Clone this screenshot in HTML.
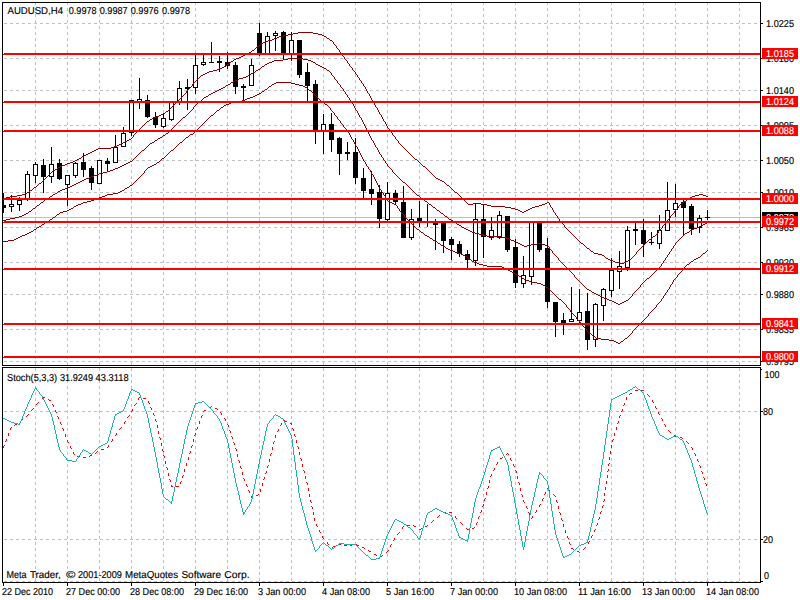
<!DOCTYPE html>
<html><head><meta charset="utf-8"><title>AUDUSD H4</title>
<style>html,body{margin:0;padding:0;background:#fff;width:800px;height:600px;overflow:hidden}</style></head>
<body>
<svg width="800" height="600" viewBox="0 0 800 600" style="position:absolute;left:0;top:0">
<rect x="0" y="0" width="800" height="600" fill="#fff"/>
<g shape-rendering="crispEdges" fill="#c0c0c0">
<path d="M4 23h3v1h-3zM10 23h3v1h-3zM16 23h3v1h-3zM22 23h3v1h-3zM28 23h3v1h-3zM34 23h3v1h-3zM40 23h3v1h-3zM46 23h3v1h-3zM52 23h3v1h-3zM58 23h3v1h-3zM64 23h3v1h-3zM70 23h3v1h-3zM76 23h3v1h-3zM82 23h3v1h-3zM88 23h3v1h-3zM94 23h3v1h-3zM100 23h3v1h-3zM106 23h3v1h-3zM112 23h3v1h-3zM118 23h3v1h-3zM124 23h3v1h-3zM130 23h3v1h-3zM136 23h3v1h-3zM142 23h3v1h-3zM148 23h3v1h-3zM154 23h3v1h-3zM160 23h3v1h-3zM166 23h3v1h-3zM172 23h3v1h-3zM178 23h3v1h-3zM184 23h3v1h-3zM190 23h3v1h-3zM196 23h3v1h-3zM202 23h3v1h-3zM208 23h3v1h-3zM214 23h3v1h-3zM220 23h3v1h-3zM226 23h3v1h-3zM232 23h3v1h-3zM238 23h3v1h-3zM244 23h3v1h-3zM250 23h3v1h-3zM256 23h3v1h-3zM262 23h3v1h-3zM268 23h3v1h-3zM274 23h3v1h-3zM280 23h3v1h-3zM286 23h3v1h-3zM292 23h3v1h-3zM298 23h3v1h-3zM304 23h3v1h-3zM310 23h3v1h-3zM316 23h3v1h-3zM322 23h3v1h-3zM328 23h3v1h-3zM334 23h3v1h-3zM340 23h3v1h-3zM346 23h3v1h-3zM352 23h3v1h-3zM358 23h3v1h-3zM364 23h3v1h-3zM370 23h3v1h-3zM376 23h3v1h-3zM382 23h3v1h-3zM388 23h3v1h-3zM394 23h3v1h-3zM400 23h3v1h-3zM406 23h3v1h-3zM412 23h3v1h-3zM418 23h3v1h-3zM424 23h3v1h-3zM430 23h3v1h-3zM436 23h3v1h-3zM442 23h3v1h-3zM448 23h3v1h-3zM454 23h3v1h-3zM460 23h3v1h-3zM466 23h3v1h-3zM472 23h3v1h-3zM478 23h3v1h-3zM484 23h3v1h-3zM490 23h3v1h-3zM496 23h3v1h-3zM502 23h3v1h-3zM508 23h3v1h-3zM514 23h3v1h-3zM520 23h3v1h-3zM526 23h3v1h-3zM532 23h3v1h-3zM538 23h3v1h-3zM544 23h3v1h-3zM550 23h3v1h-3zM556 23h3v1h-3zM562 23h3v1h-3zM568 23h3v1h-3zM574 23h3v1h-3zM580 23h3v1h-3zM586 23h3v1h-3zM592 23h3v1h-3zM598 23h3v1h-3zM604 23h3v1h-3zM610 23h3v1h-3zM616 23h3v1h-3zM622 23h3v1h-3zM628 23h3v1h-3zM634 23h3v1h-3zM640 23h3v1h-3zM646 23h3v1h-3zM652 23h3v1h-3zM658 23h3v1h-3zM664 23h3v1h-3zM670 23h3v1h-3zM676 23h3v1h-3zM682 23h3v1h-3zM688 23h3v1h-3zM694 23h3v1h-3zM700 23h3v1h-3zM706 23h3v1h-3zM712 23h3v1h-3zM718 23h3v1h-3zM724 23h3v1h-3zM730 23h3v1h-3zM736 23h3v1h-3zM742 23h3v1h-3zM748 23h3v1h-3zM754 23h3v1h-3zM4 58h3v1h-3zM10 58h3v1h-3zM16 58h3v1h-3zM22 58h3v1h-3zM28 58h3v1h-3zM34 58h3v1h-3zM40 58h3v1h-3zM46 58h3v1h-3zM52 58h3v1h-3zM58 58h3v1h-3zM64 58h3v1h-3zM70 58h3v1h-3zM76 58h3v1h-3zM82 58h3v1h-3zM88 58h3v1h-3zM94 58h3v1h-3zM100 58h3v1h-3zM106 58h3v1h-3zM112 58h3v1h-3zM118 58h3v1h-3zM124 58h3v1h-3zM130 58h3v1h-3zM136 58h3v1h-3zM142 58h3v1h-3zM148 58h3v1h-3zM154 58h3v1h-3zM160 58h3v1h-3zM166 58h3v1h-3zM172 58h3v1h-3zM178 58h3v1h-3zM184 58h3v1h-3zM190 58h3v1h-3zM196 58h3v1h-3zM202 58h3v1h-3zM208 58h3v1h-3zM214 58h3v1h-3zM220 58h3v1h-3zM226 58h3v1h-3zM232 58h3v1h-3zM238 58h3v1h-3zM244 58h3v1h-3zM250 58h3v1h-3zM256 58h3v1h-3zM262 58h3v1h-3zM268 58h3v1h-3zM274 58h3v1h-3zM280 58h3v1h-3zM286 58h3v1h-3zM292 58h3v1h-3zM298 58h3v1h-3zM304 58h3v1h-3zM310 58h3v1h-3zM316 58h3v1h-3zM322 58h3v1h-3zM328 58h3v1h-3zM334 58h3v1h-3zM340 58h3v1h-3zM346 58h3v1h-3zM352 58h3v1h-3zM358 58h3v1h-3zM364 58h3v1h-3zM370 58h3v1h-3zM376 58h3v1h-3zM382 58h3v1h-3zM388 58h3v1h-3zM394 58h3v1h-3zM400 58h3v1h-3zM406 58h3v1h-3zM412 58h3v1h-3zM418 58h3v1h-3zM424 58h3v1h-3zM430 58h3v1h-3zM436 58h3v1h-3zM442 58h3v1h-3zM448 58h3v1h-3zM454 58h3v1h-3zM460 58h3v1h-3zM466 58h3v1h-3zM472 58h3v1h-3zM478 58h3v1h-3zM484 58h3v1h-3zM490 58h3v1h-3zM496 58h3v1h-3zM502 58h3v1h-3zM508 58h3v1h-3zM514 58h3v1h-3zM520 58h3v1h-3zM526 58h3v1h-3zM532 58h3v1h-3zM538 58h3v1h-3zM544 58h3v1h-3zM550 58h3v1h-3zM556 58h3v1h-3zM562 58h3v1h-3zM568 58h3v1h-3zM574 58h3v1h-3zM580 58h3v1h-3zM586 58h3v1h-3zM592 58h3v1h-3zM598 58h3v1h-3zM604 58h3v1h-3zM610 58h3v1h-3zM616 58h3v1h-3zM622 58h3v1h-3zM628 58h3v1h-3zM634 58h3v1h-3zM640 58h3v1h-3zM646 58h3v1h-3zM652 58h3v1h-3zM658 58h3v1h-3zM664 58h3v1h-3zM670 58h3v1h-3zM676 58h3v1h-3zM682 58h3v1h-3zM688 58h3v1h-3zM694 58h3v1h-3zM700 58h3v1h-3zM706 58h3v1h-3zM712 58h3v1h-3zM718 58h3v1h-3zM724 58h3v1h-3zM730 58h3v1h-3zM736 58h3v1h-3zM742 58h3v1h-3zM748 58h3v1h-3zM754 58h3v1h-3zM4 90h3v1h-3zM10 90h3v1h-3zM16 90h3v1h-3zM22 90h3v1h-3zM28 90h3v1h-3zM34 90h3v1h-3zM40 90h3v1h-3zM46 90h3v1h-3zM52 90h3v1h-3zM58 90h3v1h-3zM64 90h3v1h-3zM70 90h3v1h-3zM76 90h3v1h-3zM82 90h3v1h-3zM88 90h3v1h-3zM94 90h3v1h-3zM100 90h3v1h-3zM106 90h3v1h-3zM112 90h3v1h-3zM118 90h3v1h-3zM124 90h3v1h-3zM130 90h3v1h-3zM136 90h3v1h-3zM142 90h3v1h-3zM148 90h3v1h-3zM154 90h3v1h-3zM160 90h3v1h-3zM166 90h3v1h-3zM172 90h3v1h-3zM178 90h3v1h-3zM184 90h3v1h-3zM190 90h3v1h-3zM196 90h3v1h-3zM202 90h3v1h-3zM208 90h3v1h-3zM214 90h3v1h-3zM220 90h3v1h-3zM226 90h3v1h-3zM232 90h3v1h-3zM238 90h3v1h-3zM244 90h3v1h-3zM250 90h3v1h-3zM256 90h3v1h-3zM262 90h3v1h-3zM268 90h3v1h-3zM274 90h3v1h-3zM280 90h3v1h-3zM286 90h3v1h-3zM292 90h3v1h-3zM298 90h3v1h-3zM304 90h3v1h-3zM310 90h3v1h-3zM316 90h3v1h-3zM322 90h3v1h-3zM328 90h3v1h-3zM334 90h3v1h-3zM340 90h3v1h-3zM346 90h3v1h-3zM352 90h3v1h-3zM358 90h3v1h-3zM364 90h3v1h-3zM370 90h3v1h-3zM376 90h3v1h-3zM382 90h3v1h-3zM388 90h3v1h-3zM394 90h3v1h-3zM400 90h3v1h-3zM406 90h3v1h-3zM412 90h3v1h-3zM418 90h3v1h-3zM424 90h3v1h-3zM430 90h3v1h-3zM436 90h3v1h-3zM442 90h3v1h-3zM448 90h3v1h-3zM454 90h3v1h-3zM460 90h3v1h-3zM466 90h3v1h-3zM472 90h3v1h-3zM478 90h3v1h-3zM484 90h3v1h-3zM490 90h3v1h-3zM496 90h3v1h-3zM502 90h3v1h-3zM508 90h3v1h-3zM514 90h3v1h-3zM520 90h3v1h-3zM526 90h3v1h-3zM532 90h3v1h-3zM538 90h3v1h-3zM544 90h3v1h-3zM550 90h3v1h-3zM556 90h3v1h-3zM562 90h3v1h-3zM568 90h3v1h-3zM574 90h3v1h-3zM580 90h3v1h-3zM586 90h3v1h-3zM592 90h3v1h-3zM598 90h3v1h-3zM604 90h3v1h-3zM610 90h3v1h-3zM616 90h3v1h-3zM622 90h3v1h-3zM628 90h3v1h-3zM634 90h3v1h-3zM640 90h3v1h-3zM646 90h3v1h-3zM652 90h3v1h-3zM658 90h3v1h-3zM664 90h3v1h-3zM670 90h3v1h-3zM676 90h3v1h-3zM682 90h3v1h-3zM688 90h3v1h-3zM694 90h3v1h-3zM700 90h3v1h-3zM706 90h3v1h-3zM712 90h3v1h-3zM718 90h3v1h-3zM724 90h3v1h-3zM730 90h3v1h-3zM736 90h3v1h-3zM742 90h3v1h-3zM748 90h3v1h-3zM754 90h3v1h-3zM4 125h3v1h-3zM10 125h3v1h-3zM16 125h3v1h-3zM22 125h3v1h-3zM28 125h3v1h-3zM34 125h3v1h-3zM40 125h3v1h-3zM46 125h3v1h-3zM52 125h3v1h-3zM58 125h3v1h-3zM64 125h3v1h-3zM70 125h3v1h-3zM76 125h3v1h-3zM82 125h3v1h-3zM88 125h3v1h-3zM94 125h3v1h-3zM100 125h3v1h-3zM106 125h3v1h-3zM112 125h3v1h-3zM118 125h3v1h-3zM124 125h3v1h-3zM130 125h3v1h-3zM136 125h3v1h-3zM142 125h3v1h-3zM148 125h3v1h-3zM154 125h3v1h-3zM160 125h3v1h-3zM166 125h3v1h-3zM172 125h3v1h-3zM178 125h3v1h-3zM184 125h3v1h-3zM190 125h3v1h-3zM196 125h3v1h-3zM202 125h3v1h-3zM208 125h3v1h-3zM214 125h3v1h-3zM220 125h3v1h-3zM226 125h3v1h-3zM232 125h3v1h-3zM238 125h3v1h-3zM244 125h3v1h-3zM250 125h3v1h-3zM256 125h3v1h-3zM262 125h3v1h-3zM268 125h3v1h-3zM274 125h3v1h-3zM280 125h3v1h-3zM286 125h3v1h-3zM292 125h3v1h-3zM298 125h3v1h-3zM304 125h3v1h-3zM310 125h3v1h-3zM316 125h3v1h-3zM322 125h3v1h-3zM328 125h3v1h-3zM334 125h3v1h-3zM340 125h3v1h-3zM346 125h3v1h-3zM352 125h3v1h-3zM358 125h3v1h-3zM364 125h3v1h-3zM370 125h3v1h-3zM376 125h3v1h-3zM382 125h3v1h-3zM388 125h3v1h-3zM394 125h3v1h-3zM400 125h3v1h-3zM406 125h3v1h-3zM412 125h3v1h-3zM418 125h3v1h-3zM424 125h3v1h-3zM430 125h3v1h-3zM436 125h3v1h-3zM442 125h3v1h-3zM448 125h3v1h-3zM454 125h3v1h-3zM460 125h3v1h-3zM466 125h3v1h-3zM472 125h3v1h-3zM478 125h3v1h-3zM484 125h3v1h-3zM490 125h3v1h-3zM496 125h3v1h-3zM502 125h3v1h-3zM508 125h3v1h-3zM514 125h3v1h-3zM520 125h3v1h-3zM526 125h3v1h-3zM532 125h3v1h-3zM538 125h3v1h-3zM544 125h3v1h-3zM550 125h3v1h-3zM556 125h3v1h-3zM562 125h3v1h-3zM568 125h3v1h-3zM574 125h3v1h-3zM580 125h3v1h-3zM586 125h3v1h-3zM592 125h3v1h-3zM598 125h3v1h-3zM604 125h3v1h-3zM610 125h3v1h-3zM616 125h3v1h-3zM622 125h3v1h-3zM628 125h3v1h-3zM634 125h3v1h-3zM640 125h3v1h-3zM646 125h3v1h-3zM652 125h3v1h-3zM658 125h3v1h-3zM664 125h3v1h-3zM670 125h3v1h-3zM676 125h3v1h-3zM682 125h3v1h-3zM688 125h3v1h-3zM694 125h3v1h-3zM700 125h3v1h-3zM706 125h3v1h-3zM712 125h3v1h-3zM718 125h3v1h-3zM724 125h3v1h-3zM730 125h3v1h-3zM736 125h3v1h-3zM742 125h3v1h-3zM748 125h3v1h-3zM754 125h3v1h-3zM4 160h3v1h-3zM10 160h3v1h-3zM16 160h3v1h-3zM22 160h3v1h-3zM28 160h3v1h-3zM34 160h3v1h-3zM40 160h3v1h-3zM46 160h3v1h-3zM52 160h3v1h-3zM58 160h3v1h-3zM64 160h3v1h-3zM70 160h3v1h-3zM76 160h3v1h-3zM82 160h3v1h-3zM88 160h3v1h-3zM94 160h3v1h-3zM100 160h3v1h-3zM106 160h3v1h-3zM112 160h3v1h-3zM118 160h3v1h-3zM124 160h3v1h-3zM130 160h3v1h-3zM136 160h3v1h-3zM142 160h3v1h-3zM148 160h3v1h-3zM154 160h3v1h-3zM160 160h3v1h-3zM166 160h3v1h-3zM172 160h3v1h-3zM178 160h3v1h-3zM184 160h3v1h-3zM190 160h3v1h-3zM196 160h3v1h-3zM202 160h3v1h-3zM208 160h3v1h-3zM214 160h3v1h-3zM220 160h3v1h-3zM226 160h3v1h-3zM232 160h3v1h-3zM238 160h3v1h-3zM244 160h3v1h-3zM250 160h3v1h-3zM256 160h3v1h-3zM262 160h3v1h-3zM268 160h3v1h-3zM274 160h3v1h-3zM280 160h3v1h-3zM286 160h3v1h-3zM292 160h3v1h-3zM298 160h3v1h-3zM304 160h3v1h-3zM310 160h3v1h-3zM316 160h3v1h-3zM322 160h3v1h-3zM328 160h3v1h-3zM334 160h3v1h-3zM340 160h3v1h-3zM346 160h3v1h-3zM352 160h3v1h-3zM358 160h3v1h-3zM364 160h3v1h-3zM370 160h3v1h-3zM376 160h3v1h-3zM382 160h3v1h-3zM388 160h3v1h-3zM394 160h3v1h-3zM400 160h3v1h-3zM406 160h3v1h-3zM412 160h3v1h-3zM418 160h3v1h-3zM424 160h3v1h-3zM430 160h3v1h-3zM436 160h3v1h-3zM442 160h3v1h-3zM448 160h3v1h-3zM454 160h3v1h-3zM460 160h3v1h-3zM466 160h3v1h-3zM472 160h3v1h-3zM478 160h3v1h-3zM484 160h3v1h-3zM490 160h3v1h-3zM496 160h3v1h-3zM502 160h3v1h-3zM508 160h3v1h-3zM514 160h3v1h-3zM520 160h3v1h-3zM526 160h3v1h-3zM532 160h3v1h-3zM538 160h3v1h-3zM544 160h3v1h-3zM550 160h3v1h-3zM556 160h3v1h-3zM562 160h3v1h-3zM568 160h3v1h-3zM574 160h3v1h-3zM580 160h3v1h-3zM586 160h3v1h-3zM592 160h3v1h-3zM598 160h3v1h-3zM604 160h3v1h-3zM610 160h3v1h-3zM616 160h3v1h-3zM622 160h3v1h-3zM628 160h3v1h-3zM634 160h3v1h-3zM640 160h3v1h-3zM646 160h3v1h-3zM652 160h3v1h-3zM658 160h3v1h-3zM664 160h3v1h-3zM670 160h3v1h-3zM676 160h3v1h-3zM682 160h3v1h-3zM688 160h3v1h-3zM694 160h3v1h-3zM700 160h3v1h-3zM706 160h3v1h-3zM712 160h3v1h-3zM718 160h3v1h-3zM724 160h3v1h-3zM730 160h3v1h-3zM736 160h3v1h-3zM742 160h3v1h-3zM748 160h3v1h-3zM754 160h3v1h-3zM4 192h3v1h-3zM10 192h3v1h-3zM16 192h3v1h-3zM22 192h3v1h-3zM28 192h3v1h-3zM34 192h3v1h-3zM40 192h3v1h-3zM46 192h3v1h-3zM52 192h3v1h-3zM58 192h3v1h-3zM64 192h3v1h-3zM70 192h3v1h-3zM76 192h3v1h-3zM82 192h3v1h-3zM88 192h3v1h-3zM94 192h3v1h-3zM100 192h3v1h-3zM106 192h3v1h-3zM112 192h3v1h-3zM118 192h3v1h-3zM124 192h3v1h-3zM130 192h3v1h-3zM136 192h3v1h-3zM142 192h3v1h-3zM148 192h3v1h-3zM154 192h3v1h-3zM160 192h3v1h-3zM166 192h3v1h-3zM172 192h3v1h-3zM178 192h3v1h-3zM184 192h3v1h-3zM190 192h3v1h-3zM196 192h3v1h-3zM202 192h3v1h-3zM208 192h3v1h-3zM214 192h3v1h-3zM220 192h3v1h-3zM226 192h3v1h-3zM232 192h3v1h-3zM238 192h3v1h-3zM244 192h3v1h-3zM250 192h3v1h-3zM256 192h3v1h-3zM262 192h3v1h-3zM268 192h3v1h-3zM274 192h3v1h-3zM280 192h3v1h-3zM286 192h3v1h-3zM292 192h3v1h-3zM298 192h3v1h-3zM304 192h3v1h-3zM310 192h3v1h-3zM316 192h3v1h-3zM322 192h3v1h-3zM328 192h3v1h-3zM334 192h3v1h-3zM340 192h3v1h-3zM346 192h3v1h-3zM352 192h3v1h-3zM358 192h3v1h-3zM364 192h3v1h-3zM370 192h3v1h-3zM376 192h3v1h-3zM382 192h3v1h-3zM388 192h3v1h-3zM394 192h3v1h-3zM400 192h3v1h-3zM406 192h3v1h-3zM412 192h3v1h-3zM418 192h3v1h-3zM424 192h3v1h-3zM430 192h3v1h-3zM436 192h3v1h-3zM442 192h3v1h-3zM448 192h3v1h-3zM454 192h3v1h-3zM460 192h3v1h-3zM466 192h3v1h-3zM472 192h3v1h-3zM478 192h3v1h-3zM484 192h3v1h-3zM490 192h3v1h-3zM496 192h3v1h-3zM502 192h3v1h-3zM508 192h3v1h-3zM514 192h3v1h-3zM520 192h3v1h-3zM526 192h3v1h-3zM532 192h3v1h-3zM538 192h3v1h-3zM544 192h3v1h-3zM550 192h3v1h-3zM556 192h3v1h-3zM562 192h3v1h-3zM568 192h3v1h-3zM574 192h3v1h-3zM580 192h3v1h-3zM586 192h3v1h-3zM592 192h3v1h-3zM598 192h3v1h-3zM604 192h3v1h-3zM610 192h3v1h-3zM616 192h3v1h-3zM622 192h3v1h-3zM628 192h3v1h-3zM634 192h3v1h-3zM640 192h3v1h-3zM646 192h3v1h-3zM652 192h3v1h-3zM658 192h3v1h-3zM664 192h3v1h-3zM670 192h3v1h-3zM676 192h3v1h-3zM682 192h3v1h-3zM688 192h3v1h-3zM694 192h3v1h-3zM700 192h3v1h-3zM706 192h3v1h-3zM712 192h3v1h-3zM718 192h3v1h-3zM724 192h3v1h-3zM730 192h3v1h-3zM736 192h3v1h-3zM742 192h3v1h-3zM748 192h3v1h-3zM754 192h3v1h-3zM4 227h3v1h-3zM10 227h3v1h-3zM16 227h3v1h-3zM22 227h3v1h-3zM28 227h3v1h-3zM34 227h3v1h-3zM40 227h3v1h-3zM46 227h3v1h-3zM52 227h3v1h-3zM58 227h3v1h-3zM64 227h3v1h-3zM70 227h3v1h-3zM76 227h3v1h-3zM82 227h3v1h-3zM88 227h3v1h-3zM94 227h3v1h-3zM100 227h3v1h-3zM106 227h3v1h-3zM112 227h3v1h-3zM118 227h3v1h-3zM124 227h3v1h-3zM130 227h3v1h-3zM136 227h3v1h-3zM142 227h3v1h-3zM148 227h3v1h-3zM154 227h3v1h-3zM160 227h3v1h-3zM166 227h3v1h-3zM172 227h3v1h-3zM178 227h3v1h-3zM184 227h3v1h-3zM190 227h3v1h-3zM196 227h3v1h-3zM202 227h3v1h-3zM208 227h3v1h-3zM214 227h3v1h-3zM220 227h3v1h-3zM226 227h3v1h-3zM232 227h3v1h-3zM238 227h3v1h-3zM244 227h3v1h-3zM250 227h3v1h-3zM256 227h3v1h-3zM262 227h3v1h-3zM268 227h3v1h-3zM274 227h3v1h-3zM280 227h3v1h-3zM286 227h3v1h-3zM292 227h3v1h-3zM298 227h3v1h-3zM304 227h3v1h-3zM310 227h3v1h-3zM316 227h3v1h-3zM322 227h3v1h-3zM328 227h3v1h-3zM334 227h3v1h-3zM340 227h3v1h-3zM346 227h3v1h-3zM352 227h3v1h-3zM358 227h3v1h-3zM364 227h3v1h-3zM370 227h3v1h-3zM376 227h3v1h-3zM382 227h3v1h-3zM388 227h3v1h-3zM394 227h3v1h-3zM400 227h3v1h-3zM406 227h3v1h-3zM412 227h3v1h-3zM418 227h3v1h-3zM424 227h3v1h-3zM430 227h3v1h-3zM436 227h3v1h-3zM442 227h3v1h-3zM448 227h3v1h-3zM454 227h3v1h-3zM460 227h3v1h-3zM466 227h3v1h-3zM472 227h3v1h-3zM478 227h3v1h-3zM484 227h3v1h-3zM490 227h3v1h-3zM496 227h3v1h-3zM502 227h3v1h-3zM508 227h3v1h-3zM514 227h3v1h-3zM520 227h3v1h-3zM526 227h3v1h-3zM532 227h3v1h-3zM538 227h3v1h-3zM544 227h3v1h-3zM550 227h3v1h-3zM556 227h3v1h-3zM562 227h3v1h-3zM568 227h3v1h-3zM574 227h3v1h-3zM580 227h3v1h-3zM586 227h3v1h-3zM592 227h3v1h-3zM598 227h3v1h-3zM604 227h3v1h-3zM610 227h3v1h-3zM616 227h3v1h-3zM622 227h3v1h-3zM628 227h3v1h-3zM634 227h3v1h-3zM640 227h3v1h-3zM646 227h3v1h-3zM652 227h3v1h-3zM658 227h3v1h-3zM664 227h3v1h-3zM670 227h3v1h-3zM676 227h3v1h-3zM682 227h3v1h-3zM688 227h3v1h-3zM694 227h3v1h-3zM700 227h3v1h-3zM706 227h3v1h-3zM712 227h3v1h-3zM718 227h3v1h-3zM724 227h3v1h-3zM730 227h3v1h-3zM736 227h3v1h-3zM742 227h3v1h-3zM748 227h3v1h-3zM754 227h3v1h-3zM4 262h3v1h-3zM10 262h3v1h-3zM16 262h3v1h-3zM22 262h3v1h-3zM28 262h3v1h-3zM34 262h3v1h-3zM40 262h3v1h-3zM46 262h3v1h-3zM52 262h3v1h-3zM58 262h3v1h-3zM64 262h3v1h-3zM70 262h3v1h-3zM76 262h3v1h-3zM82 262h3v1h-3zM88 262h3v1h-3zM94 262h3v1h-3zM100 262h3v1h-3zM106 262h3v1h-3zM112 262h3v1h-3zM118 262h3v1h-3zM124 262h3v1h-3zM130 262h3v1h-3zM136 262h3v1h-3zM142 262h3v1h-3zM148 262h3v1h-3zM154 262h3v1h-3zM160 262h3v1h-3zM166 262h3v1h-3zM172 262h3v1h-3zM178 262h3v1h-3zM184 262h3v1h-3zM190 262h3v1h-3zM196 262h3v1h-3zM202 262h3v1h-3zM208 262h3v1h-3zM214 262h3v1h-3zM220 262h3v1h-3zM226 262h3v1h-3zM232 262h3v1h-3zM238 262h3v1h-3zM244 262h3v1h-3zM250 262h3v1h-3zM256 262h3v1h-3zM262 262h3v1h-3zM268 262h3v1h-3zM274 262h3v1h-3zM280 262h3v1h-3zM286 262h3v1h-3zM292 262h3v1h-3zM298 262h3v1h-3zM304 262h3v1h-3zM310 262h3v1h-3zM316 262h3v1h-3zM322 262h3v1h-3zM328 262h3v1h-3zM334 262h3v1h-3zM340 262h3v1h-3zM346 262h3v1h-3zM352 262h3v1h-3zM358 262h3v1h-3zM364 262h3v1h-3zM370 262h3v1h-3zM376 262h3v1h-3zM382 262h3v1h-3zM388 262h3v1h-3zM394 262h3v1h-3zM400 262h3v1h-3zM406 262h3v1h-3zM412 262h3v1h-3zM418 262h3v1h-3zM424 262h3v1h-3zM430 262h3v1h-3zM436 262h3v1h-3zM442 262h3v1h-3zM448 262h3v1h-3zM454 262h3v1h-3zM460 262h3v1h-3zM466 262h3v1h-3zM472 262h3v1h-3zM478 262h3v1h-3zM484 262h3v1h-3zM490 262h3v1h-3zM496 262h3v1h-3zM502 262h3v1h-3zM508 262h3v1h-3zM514 262h3v1h-3zM520 262h3v1h-3zM526 262h3v1h-3zM532 262h3v1h-3zM538 262h3v1h-3zM544 262h3v1h-3zM550 262h3v1h-3zM556 262h3v1h-3zM562 262h3v1h-3zM568 262h3v1h-3zM574 262h3v1h-3zM580 262h3v1h-3zM586 262h3v1h-3zM592 262h3v1h-3zM598 262h3v1h-3zM604 262h3v1h-3zM610 262h3v1h-3zM616 262h3v1h-3zM622 262h3v1h-3zM628 262h3v1h-3zM634 262h3v1h-3zM640 262h3v1h-3zM646 262h3v1h-3zM652 262h3v1h-3zM658 262h3v1h-3zM664 262h3v1h-3zM670 262h3v1h-3zM676 262h3v1h-3zM682 262h3v1h-3zM688 262h3v1h-3zM694 262h3v1h-3zM700 262h3v1h-3zM706 262h3v1h-3zM712 262h3v1h-3zM718 262h3v1h-3zM724 262h3v1h-3zM730 262h3v1h-3zM736 262h3v1h-3zM742 262h3v1h-3zM748 262h3v1h-3zM754 262h3v1h-3zM4 294h3v1h-3zM10 294h3v1h-3zM16 294h3v1h-3zM22 294h3v1h-3zM28 294h3v1h-3zM34 294h3v1h-3zM40 294h3v1h-3zM46 294h3v1h-3zM52 294h3v1h-3zM58 294h3v1h-3zM64 294h3v1h-3zM70 294h3v1h-3zM76 294h3v1h-3zM82 294h3v1h-3zM88 294h3v1h-3zM94 294h3v1h-3zM100 294h3v1h-3zM106 294h3v1h-3zM112 294h3v1h-3zM118 294h3v1h-3zM124 294h3v1h-3zM130 294h3v1h-3zM136 294h3v1h-3zM142 294h3v1h-3zM148 294h3v1h-3zM154 294h3v1h-3zM160 294h3v1h-3zM166 294h3v1h-3zM172 294h3v1h-3zM178 294h3v1h-3zM184 294h3v1h-3zM190 294h3v1h-3zM196 294h3v1h-3zM202 294h3v1h-3zM208 294h3v1h-3zM214 294h3v1h-3zM220 294h3v1h-3zM226 294h3v1h-3zM232 294h3v1h-3zM238 294h3v1h-3zM244 294h3v1h-3zM250 294h3v1h-3zM256 294h3v1h-3zM262 294h3v1h-3zM268 294h3v1h-3zM274 294h3v1h-3zM280 294h3v1h-3zM286 294h3v1h-3zM292 294h3v1h-3zM298 294h3v1h-3zM304 294h3v1h-3zM310 294h3v1h-3zM316 294h3v1h-3zM322 294h3v1h-3zM328 294h3v1h-3zM334 294h3v1h-3zM340 294h3v1h-3zM346 294h3v1h-3zM352 294h3v1h-3zM358 294h3v1h-3zM364 294h3v1h-3zM370 294h3v1h-3zM376 294h3v1h-3zM382 294h3v1h-3zM388 294h3v1h-3zM394 294h3v1h-3zM400 294h3v1h-3zM406 294h3v1h-3zM412 294h3v1h-3zM418 294h3v1h-3zM424 294h3v1h-3zM430 294h3v1h-3zM436 294h3v1h-3zM442 294h3v1h-3zM448 294h3v1h-3zM454 294h3v1h-3zM460 294h3v1h-3zM466 294h3v1h-3zM472 294h3v1h-3zM478 294h3v1h-3zM484 294h3v1h-3zM490 294h3v1h-3zM496 294h3v1h-3zM502 294h3v1h-3zM508 294h3v1h-3zM514 294h3v1h-3zM520 294h3v1h-3zM526 294h3v1h-3zM532 294h3v1h-3zM538 294h3v1h-3zM544 294h3v1h-3zM550 294h3v1h-3zM556 294h3v1h-3zM562 294h3v1h-3zM568 294h3v1h-3zM574 294h3v1h-3zM580 294h3v1h-3zM586 294h3v1h-3zM592 294h3v1h-3zM598 294h3v1h-3zM604 294h3v1h-3zM610 294h3v1h-3zM616 294h3v1h-3zM622 294h3v1h-3zM628 294h3v1h-3zM634 294h3v1h-3zM640 294h3v1h-3zM646 294h3v1h-3zM652 294h3v1h-3zM658 294h3v1h-3zM664 294h3v1h-3zM670 294h3v1h-3zM676 294h3v1h-3zM682 294h3v1h-3zM688 294h3v1h-3zM694 294h3v1h-3zM700 294h3v1h-3zM706 294h3v1h-3zM712 294h3v1h-3zM718 294h3v1h-3zM724 294h3v1h-3zM730 294h3v1h-3zM736 294h3v1h-3zM742 294h3v1h-3zM748 294h3v1h-3zM754 294h3v1h-3zM4 329h3v1h-3zM10 329h3v1h-3zM16 329h3v1h-3zM22 329h3v1h-3zM28 329h3v1h-3zM34 329h3v1h-3zM40 329h3v1h-3zM46 329h3v1h-3zM52 329h3v1h-3zM58 329h3v1h-3zM64 329h3v1h-3zM70 329h3v1h-3zM76 329h3v1h-3zM82 329h3v1h-3zM88 329h3v1h-3zM94 329h3v1h-3zM100 329h3v1h-3zM106 329h3v1h-3zM112 329h3v1h-3zM118 329h3v1h-3zM124 329h3v1h-3zM130 329h3v1h-3zM136 329h3v1h-3zM142 329h3v1h-3zM148 329h3v1h-3zM154 329h3v1h-3zM160 329h3v1h-3zM166 329h3v1h-3zM172 329h3v1h-3zM178 329h3v1h-3zM184 329h3v1h-3zM190 329h3v1h-3zM196 329h3v1h-3zM202 329h3v1h-3zM208 329h3v1h-3zM214 329h3v1h-3zM220 329h3v1h-3zM226 329h3v1h-3zM232 329h3v1h-3zM238 329h3v1h-3zM244 329h3v1h-3zM250 329h3v1h-3zM256 329h3v1h-3zM262 329h3v1h-3zM268 329h3v1h-3zM274 329h3v1h-3zM280 329h3v1h-3zM286 329h3v1h-3zM292 329h3v1h-3zM298 329h3v1h-3zM304 329h3v1h-3zM310 329h3v1h-3zM316 329h3v1h-3zM322 329h3v1h-3zM328 329h3v1h-3zM334 329h3v1h-3zM340 329h3v1h-3zM346 329h3v1h-3zM352 329h3v1h-3zM358 329h3v1h-3zM364 329h3v1h-3zM370 329h3v1h-3zM376 329h3v1h-3zM382 329h3v1h-3zM388 329h3v1h-3zM394 329h3v1h-3zM400 329h3v1h-3zM406 329h3v1h-3zM412 329h3v1h-3zM418 329h3v1h-3zM424 329h3v1h-3zM430 329h3v1h-3zM436 329h3v1h-3zM442 329h3v1h-3zM448 329h3v1h-3zM454 329h3v1h-3zM460 329h3v1h-3zM466 329h3v1h-3zM472 329h3v1h-3zM478 329h3v1h-3zM484 329h3v1h-3zM490 329h3v1h-3zM496 329h3v1h-3zM502 329h3v1h-3zM508 329h3v1h-3zM514 329h3v1h-3zM520 329h3v1h-3zM526 329h3v1h-3zM532 329h3v1h-3zM538 329h3v1h-3zM544 329h3v1h-3zM550 329h3v1h-3zM556 329h3v1h-3zM562 329h3v1h-3zM568 329h3v1h-3zM574 329h3v1h-3zM580 329h3v1h-3zM586 329h3v1h-3zM592 329h3v1h-3zM598 329h3v1h-3zM604 329h3v1h-3zM610 329h3v1h-3zM616 329h3v1h-3zM622 329h3v1h-3zM628 329h3v1h-3zM634 329h3v1h-3zM640 329h3v1h-3zM646 329h3v1h-3zM652 329h3v1h-3zM658 329h3v1h-3zM664 329h3v1h-3zM670 329h3v1h-3zM676 329h3v1h-3zM682 329h3v1h-3zM688 329h3v1h-3zM694 329h3v1h-3zM700 329h3v1h-3zM706 329h3v1h-3zM712 329h3v1h-3zM718 329h3v1h-3zM724 329h3v1h-3zM730 329h3v1h-3zM736 329h3v1h-3zM742 329h3v1h-3zM748 329h3v1h-3zM754 329h3v1h-3zM4 361h3v1h-3zM10 361h3v1h-3zM16 361h3v1h-3zM22 361h3v1h-3zM28 361h3v1h-3zM34 361h3v1h-3zM40 361h3v1h-3zM46 361h3v1h-3zM52 361h3v1h-3zM58 361h3v1h-3zM64 361h3v1h-3zM70 361h3v1h-3zM76 361h3v1h-3zM82 361h3v1h-3zM88 361h3v1h-3zM94 361h3v1h-3zM100 361h3v1h-3zM106 361h3v1h-3zM112 361h3v1h-3zM118 361h3v1h-3zM124 361h3v1h-3zM130 361h3v1h-3zM136 361h3v1h-3zM142 361h3v1h-3zM148 361h3v1h-3zM154 361h3v1h-3zM160 361h3v1h-3zM166 361h3v1h-3zM172 361h3v1h-3zM178 361h3v1h-3zM184 361h3v1h-3zM190 361h3v1h-3zM196 361h3v1h-3zM202 361h3v1h-3zM208 361h3v1h-3zM214 361h3v1h-3zM220 361h3v1h-3zM226 361h3v1h-3zM232 361h3v1h-3zM238 361h3v1h-3zM244 361h3v1h-3zM250 361h3v1h-3zM256 361h3v1h-3zM262 361h3v1h-3zM268 361h3v1h-3zM274 361h3v1h-3zM280 361h3v1h-3zM286 361h3v1h-3zM292 361h3v1h-3zM298 361h3v1h-3zM304 361h3v1h-3zM310 361h3v1h-3zM316 361h3v1h-3zM322 361h3v1h-3zM328 361h3v1h-3zM334 361h3v1h-3zM340 361h3v1h-3zM346 361h3v1h-3zM352 361h3v1h-3zM358 361h3v1h-3zM364 361h3v1h-3zM370 361h3v1h-3zM376 361h3v1h-3zM382 361h3v1h-3zM388 361h3v1h-3zM394 361h3v1h-3zM400 361h3v1h-3zM406 361h3v1h-3zM412 361h3v1h-3zM418 361h3v1h-3zM424 361h3v1h-3zM430 361h3v1h-3zM436 361h3v1h-3zM442 361h3v1h-3zM448 361h3v1h-3zM454 361h3v1h-3zM460 361h3v1h-3zM466 361h3v1h-3zM472 361h3v1h-3zM478 361h3v1h-3zM484 361h3v1h-3zM490 361h3v1h-3zM496 361h3v1h-3zM502 361h3v1h-3zM508 361h3v1h-3zM514 361h3v1h-3zM520 361h3v1h-3zM526 361h3v1h-3zM532 361h3v1h-3zM538 361h3v1h-3zM544 361h3v1h-3zM550 361h3v1h-3zM556 361h3v1h-3zM562 361h3v1h-3zM568 361h3v1h-3zM574 361h3v1h-3zM580 361h3v1h-3zM586 361h3v1h-3zM592 361h3v1h-3zM598 361h3v1h-3zM604 361h3v1h-3zM610 361h3v1h-3zM616 361h3v1h-3zM622 361h3v1h-3zM628 361h3v1h-3zM634 361h3v1h-3zM640 361h3v1h-3zM646 361h3v1h-3zM652 361h3v1h-3zM658 361h3v1h-3zM664 361h3v1h-3zM670 361h3v1h-3zM676 361h3v1h-3zM682 361h3v1h-3zM688 361h3v1h-3zM694 361h3v1h-3zM700 361h3v1h-3zM706 361h3v1h-3zM712 361h3v1h-3zM718 361h3v1h-3zM724 361h3v1h-3zM730 361h3v1h-3zM736 361h3v1h-3zM742 361h3v1h-3zM748 361h3v1h-3zM754 361h3v1h-3zM4 411h3v1h-3zM10 411h3v1h-3zM16 411h3v1h-3zM22 411h3v1h-3zM28 411h3v1h-3zM34 411h3v1h-3zM40 411h3v1h-3zM46 411h3v1h-3zM52 411h3v1h-3zM58 411h3v1h-3zM64 411h3v1h-3zM70 411h3v1h-3zM76 411h3v1h-3zM82 411h3v1h-3zM88 411h3v1h-3zM94 411h3v1h-3zM100 411h3v1h-3zM106 411h3v1h-3zM112 411h3v1h-3zM118 411h3v1h-3zM124 411h3v1h-3zM130 411h3v1h-3zM136 411h3v1h-3zM142 411h3v1h-3zM148 411h3v1h-3zM154 411h3v1h-3zM160 411h3v1h-3zM166 411h3v1h-3zM172 411h3v1h-3zM178 411h3v1h-3zM184 411h3v1h-3zM190 411h3v1h-3zM196 411h3v1h-3zM202 411h3v1h-3zM208 411h3v1h-3zM214 411h3v1h-3zM220 411h3v1h-3zM226 411h3v1h-3zM232 411h3v1h-3zM238 411h3v1h-3zM244 411h3v1h-3zM250 411h3v1h-3zM256 411h3v1h-3zM262 411h3v1h-3zM268 411h3v1h-3zM274 411h3v1h-3zM280 411h3v1h-3zM286 411h3v1h-3zM292 411h3v1h-3zM298 411h3v1h-3zM304 411h3v1h-3zM310 411h3v1h-3zM316 411h3v1h-3zM322 411h3v1h-3zM328 411h3v1h-3zM334 411h3v1h-3zM340 411h3v1h-3zM346 411h3v1h-3zM352 411h3v1h-3zM358 411h3v1h-3zM364 411h3v1h-3zM370 411h3v1h-3zM376 411h3v1h-3zM382 411h3v1h-3zM388 411h3v1h-3zM394 411h3v1h-3zM400 411h3v1h-3zM406 411h3v1h-3zM412 411h3v1h-3zM418 411h3v1h-3zM424 411h3v1h-3zM430 411h3v1h-3zM436 411h3v1h-3zM442 411h3v1h-3zM448 411h3v1h-3zM454 411h3v1h-3zM460 411h3v1h-3zM466 411h3v1h-3zM472 411h3v1h-3zM478 411h3v1h-3zM484 411h3v1h-3zM490 411h3v1h-3zM496 411h3v1h-3zM502 411h3v1h-3zM508 411h3v1h-3zM514 411h3v1h-3zM520 411h3v1h-3zM526 411h3v1h-3zM532 411h3v1h-3zM538 411h3v1h-3zM544 411h3v1h-3zM550 411h3v1h-3zM556 411h3v1h-3zM562 411h3v1h-3zM568 411h3v1h-3zM574 411h3v1h-3zM580 411h3v1h-3zM586 411h3v1h-3zM592 411h3v1h-3zM598 411h3v1h-3zM604 411h3v1h-3zM610 411h3v1h-3zM616 411h3v1h-3zM622 411h3v1h-3zM628 411h3v1h-3zM634 411h3v1h-3zM640 411h3v1h-3zM646 411h3v1h-3zM652 411h3v1h-3zM658 411h3v1h-3zM664 411h3v1h-3zM670 411h3v1h-3zM676 411h3v1h-3zM682 411h3v1h-3zM688 411h3v1h-3zM694 411h3v1h-3zM700 411h3v1h-3zM706 411h3v1h-3zM712 411h3v1h-3zM718 411h3v1h-3zM724 411h3v1h-3zM730 411h3v1h-3zM736 411h3v1h-3zM742 411h3v1h-3zM748 411h3v1h-3zM754 411h3v1h-3zM4 539h3v1h-3zM10 539h3v1h-3zM16 539h3v1h-3zM22 539h3v1h-3zM28 539h3v1h-3zM34 539h3v1h-3zM40 539h3v1h-3zM46 539h3v1h-3zM52 539h3v1h-3zM58 539h3v1h-3zM64 539h3v1h-3zM70 539h3v1h-3zM76 539h3v1h-3zM82 539h3v1h-3zM88 539h3v1h-3zM94 539h3v1h-3zM100 539h3v1h-3zM106 539h3v1h-3zM112 539h3v1h-3zM118 539h3v1h-3zM124 539h3v1h-3zM130 539h3v1h-3zM136 539h3v1h-3zM142 539h3v1h-3zM148 539h3v1h-3zM154 539h3v1h-3zM160 539h3v1h-3zM166 539h3v1h-3zM172 539h3v1h-3zM178 539h3v1h-3zM184 539h3v1h-3zM190 539h3v1h-3zM196 539h3v1h-3zM202 539h3v1h-3zM208 539h3v1h-3zM214 539h3v1h-3zM220 539h3v1h-3zM226 539h3v1h-3zM232 539h3v1h-3zM238 539h3v1h-3zM244 539h3v1h-3zM250 539h3v1h-3zM256 539h3v1h-3zM262 539h3v1h-3zM268 539h3v1h-3zM274 539h3v1h-3zM280 539h3v1h-3zM286 539h3v1h-3zM292 539h3v1h-3zM298 539h3v1h-3zM304 539h3v1h-3zM310 539h3v1h-3zM316 539h3v1h-3zM322 539h3v1h-3zM328 539h3v1h-3zM334 539h3v1h-3zM340 539h3v1h-3zM346 539h3v1h-3zM352 539h3v1h-3zM358 539h3v1h-3zM364 539h3v1h-3zM370 539h3v1h-3zM376 539h3v1h-3zM382 539h3v1h-3zM388 539h3v1h-3zM394 539h3v1h-3zM400 539h3v1h-3zM406 539h3v1h-3zM412 539h3v1h-3zM418 539h3v1h-3zM424 539h3v1h-3zM430 539h3v1h-3zM436 539h3v1h-3zM442 539h3v1h-3zM448 539h3v1h-3zM454 539h3v1h-3zM460 539h3v1h-3zM466 539h3v1h-3zM472 539h3v1h-3zM478 539h3v1h-3zM484 539h3v1h-3zM490 539h3v1h-3zM496 539h3v1h-3zM502 539h3v1h-3zM508 539h3v1h-3zM514 539h3v1h-3zM520 539h3v1h-3zM526 539h3v1h-3zM532 539h3v1h-3zM538 539h3v1h-3zM544 539h3v1h-3zM550 539h3v1h-3zM556 539h3v1h-3zM562 539h3v1h-3zM568 539h3v1h-3zM574 539h3v1h-3zM580 539h3v1h-3zM586 539h3v1h-3zM592 539h3v1h-3zM598 539h3v1h-3zM604 539h3v1h-3zM610 539h3v1h-3zM616 539h3v1h-3zM622 539h3v1h-3zM628 539h3v1h-3zM634 539h3v1h-3zM640 539h3v1h-3zM646 539h3v1h-3zM652 539h3v1h-3zM658 539h3v1h-3zM664 539h3v1h-3zM670 539h3v1h-3zM676 539h3v1h-3zM682 539h3v1h-3zM688 539h3v1h-3zM694 539h3v1h-3zM700 539h3v1h-3zM706 539h3v1h-3zM712 539h3v1h-3zM718 539h3v1h-3zM724 539h3v1h-3zM730 539h3v1h-3zM736 539h3v1h-3zM742 539h3v1h-3zM748 539h3v1h-3zM754 539h3v1h-3zM4 581h3v1h-3zM10 581h3v1h-3zM16 581h3v1h-3zM22 581h3v1h-3zM28 581h3v1h-3zM34 581h3v1h-3zM40 581h3v1h-3zM46 581h3v1h-3zM52 581h3v1h-3zM58 581h3v1h-3zM64 581h3v1h-3zM70 581h3v1h-3zM76 581h3v1h-3zM82 581h3v1h-3zM88 581h3v1h-3zM94 581h3v1h-3zM100 581h3v1h-3zM106 581h3v1h-3zM112 581h3v1h-3zM118 581h3v1h-3zM124 581h3v1h-3zM130 581h3v1h-3zM136 581h3v1h-3zM142 581h3v1h-3zM148 581h3v1h-3zM154 581h3v1h-3zM160 581h3v1h-3zM166 581h3v1h-3zM172 581h3v1h-3zM178 581h3v1h-3zM184 581h3v1h-3zM190 581h3v1h-3zM196 581h3v1h-3zM202 581h3v1h-3zM208 581h3v1h-3zM214 581h3v1h-3zM220 581h3v1h-3zM226 581h3v1h-3zM232 581h3v1h-3zM238 581h3v1h-3zM244 581h3v1h-3zM250 581h3v1h-3zM256 581h3v1h-3zM262 581h3v1h-3zM268 581h3v1h-3zM274 581h3v1h-3zM280 581h3v1h-3zM286 581h3v1h-3zM292 581h3v1h-3zM298 581h3v1h-3zM304 581h3v1h-3zM310 581h3v1h-3zM316 581h3v1h-3zM322 581h3v1h-3zM328 581h3v1h-3zM334 581h3v1h-3zM340 581h3v1h-3zM346 581h3v1h-3zM352 581h3v1h-3zM358 581h3v1h-3zM364 581h3v1h-3zM370 581h3v1h-3zM376 581h3v1h-3zM382 581h3v1h-3zM388 581h3v1h-3zM394 581h3v1h-3zM400 581h3v1h-3zM406 581h3v1h-3zM412 581h3v1h-3zM418 581h3v1h-3zM424 581h3v1h-3zM430 581h3v1h-3zM436 581h3v1h-3zM442 581h3v1h-3zM448 581h3v1h-3zM454 581h3v1h-3zM460 581h3v1h-3zM466 581h3v1h-3zM472 581h3v1h-3zM478 581h3v1h-3zM484 581h3v1h-3zM490 581h3v1h-3zM496 581h3v1h-3zM502 581h3v1h-3zM508 581h3v1h-3zM514 581h3v1h-3zM520 581h3v1h-3zM526 581h3v1h-3zM532 581h3v1h-3zM538 581h3v1h-3zM544 581h3v1h-3zM550 581h3v1h-3zM556 581h3v1h-3zM562 581h3v1h-3zM568 581h3v1h-3zM574 581h3v1h-3zM580 581h3v1h-3zM586 581h3v1h-3zM592 581h3v1h-3zM598 581h3v1h-3zM604 581h3v1h-3zM610 581h3v1h-3zM616 581h3v1h-3zM622 581h3v1h-3zM628 581h3v1h-3zM634 581h3v1h-3zM640 581h3v1h-3zM646 581h3v1h-3zM652 581h3v1h-3zM658 581h3v1h-3zM664 581h3v1h-3zM670 581h3v1h-3zM676 581h3v1h-3zM682 581h3v1h-3zM688 581h3v1h-3zM694 581h3v1h-3zM700 581h3v1h-3zM706 581h3v1h-3zM712 581h3v1h-3zM718 581h3v1h-3zM724 581h3v1h-3zM730 581h3v1h-3zM736 581h3v1h-3zM742 581h3v1h-3zM748 581h3v1h-3zM754 581h3v1h-3zM35 3v2h1v-2zM35 8v3h1v-3zM35 14v3h1v-3zM35 20v3h1v-3zM35 26v3h1v-3zM35 32v3h1v-3zM35 38v3h1v-3zM35 44v3h1v-3zM35 50v3h1v-3zM35 56v3h1v-3zM35 62v3h1v-3zM35 68v3h1v-3zM35 74v3h1v-3zM35 80v3h1v-3zM35 86v3h1v-3zM35 92v3h1v-3zM35 98v3h1v-3zM35 104v3h1v-3zM35 110v3h1v-3zM35 116v3h1v-3zM35 122v3h1v-3zM35 128v3h1v-3zM35 134v3h1v-3zM35 140v3h1v-3zM35 146v3h1v-3zM35 152v3h1v-3zM35 158v3h1v-3zM35 164v3h1v-3zM35 170v3h1v-3zM35 176v3h1v-3zM35 182v3h1v-3zM35 188v3h1v-3zM35 194v3h1v-3zM35 200v3h1v-3zM35 206v3h1v-3zM35 212v3h1v-3zM35 218v3h1v-3zM35 224v3h1v-3zM35 230v3h1v-3zM35 236v3h1v-3zM35 242v3h1v-3zM35 248v3h1v-3zM35 254v3h1v-3zM35 260v3h1v-3zM35 266v3h1v-3zM35 272v3h1v-3zM35 278v3h1v-3zM35 284v3h1v-3zM35 290v3h1v-3zM35 296v3h1v-3zM35 302v3h1v-3zM35 308v3h1v-3zM35 314v3h1v-3zM35 320v3h1v-3zM35 326v3h1v-3zM35 332v3h1v-3zM35 338v3h1v-3zM35 344v3h1v-3zM35 350v3h1v-3zM35 356v3h1v-3zM35 362v3h1v-3zM35 368v3h1v-3zM35 374v3h1v-3zM35 380v3h1v-3zM35 386v3h1v-3zM35 392v3h1v-3zM35 398v3h1v-3zM35 404v3h1v-3zM35 410v3h1v-3zM35 416v3h1v-3zM35 422v3h1v-3zM35 428v3h1v-3zM35 434v3h1v-3zM35 440v3h1v-3zM35 446v3h1v-3zM35 452v3h1v-3zM35 458v3h1v-3zM35 464v3h1v-3zM35 470v3h1v-3zM35 476v3h1v-3zM35 482v3h1v-3zM35 488v3h1v-3zM35 494v3h1v-3zM35 500v3h1v-3zM35 506v3h1v-3zM35 512v3h1v-3zM35 518v3h1v-3zM35 524v3h1v-3zM35 530v3h1v-3zM35 536v3h1v-3zM35 542v3h1v-3zM35 548v3h1v-3zM35 554v3h1v-3zM35 560v3h1v-3zM35 566v3h1v-3zM35 572v3h1v-3zM35 578v3h1v-3zM67 3v2h1v-2zM67 8v3h1v-3zM67 14v3h1v-3zM67 20v3h1v-3zM67 26v3h1v-3zM67 32v3h1v-3zM67 38v3h1v-3zM67 44v3h1v-3zM67 50v3h1v-3zM67 56v3h1v-3zM67 62v3h1v-3zM67 68v3h1v-3zM67 74v3h1v-3zM67 80v3h1v-3zM67 86v3h1v-3zM67 92v3h1v-3zM67 98v3h1v-3zM67 104v3h1v-3zM67 110v3h1v-3zM67 116v3h1v-3zM67 122v3h1v-3zM67 128v3h1v-3zM67 134v3h1v-3zM67 140v3h1v-3zM67 146v3h1v-3zM67 152v3h1v-3zM67 158v3h1v-3zM67 164v3h1v-3zM67 170v3h1v-3zM67 176v3h1v-3zM67 182v3h1v-3zM67 188v3h1v-3zM67 194v3h1v-3zM67 200v3h1v-3zM67 206v3h1v-3zM67 212v3h1v-3zM67 218v3h1v-3zM67 224v3h1v-3zM67 230v3h1v-3zM67 236v3h1v-3zM67 242v3h1v-3zM67 248v3h1v-3zM67 254v3h1v-3zM67 260v3h1v-3zM67 266v3h1v-3zM67 272v3h1v-3zM67 278v3h1v-3zM67 284v3h1v-3zM67 290v3h1v-3zM67 296v3h1v-3zM67 302v3h1v-3zM67 308v3h1v-3zM67 314v3h1v-3zM67 320v3h1v-3zM67 326v3h1v-3zM67 332v3h1v-3zM67 338v3h1v-3zM67 344v3h1v-3zM67 350v3h1v-3zM67 356v3h1v-3zM67 362v3h1v-3zM67 368v3h1v-3zM67 374v3h1v-3zM67 380v3h1v-3zM67 386v3h1v-3zM67 392v3h1v-3zM67 398v3h1v-3zM67 404v3h1v-3zM67 410v3h1v-3zM67 416v3h1v-3zM67 422v3h1v-3zM67 428v3h1v-3zM67 434v3h1v-3zM67 440v3h1v-3zM67 446v3h1v-3zM67 452v3h1v-3zM67 458v3h1v-3zM67 464v3h1v-3zM67 470v3h1v-3zM67 476v3h1v-3zM67 482v3h1v-3zM67 488v3h1v-3zM67 494v3h1v-3zM67 500v3h1v-3zM67 506v3h1v-3zM67 512v3h1v-3zM67 518v3h1v-3zM67 524v3h1v-3zM67 530v3h1v-3zM67 536v3h1v-3zM67 542v3h1v-3zM67 548v3h1v-3zM67 554v3h1v-3zM67 560v3h1v-3zM67 566v3h1v-3zM67 572v3h1v-3zM67 578v3h1v-3zM99 3v2h1v-2zM99 8v3h1v-3zM99 14v3h1v-3zM99 20v3h1v-3zM99 26v3h1v-3zM99 32v3h1v-3zM99 38v3h1v-3zM99 44v3h1v-3zM99 50v3h1v-3zM99 56v3h1v-3zM99 62v3h1v-3zM99 68v3h1v-3zM99 74v3h1v-3zM99 80v3h1v-3zM99 86v3h1v-3zM99 92v3h1v-3zM99 98v3h1v-3zM99 104v3h1v-3zM99 110v3h1v-3zM99 116v3h1v-3zM99 122v3h1v-3zM99 128v3h1v-3zM99 134v3h1v-3zM99 140v3h1v-3zM99 146v3h1v-3zM99 152v3h1v-3zM99 158v3h1v-3zM99 164v3h1v-3zM99 170v3h1v-3zM99 176v3h1v-3zM99 182v3h1v-3zM99 188v3h1v-3zM99 194v3h1v-3zM99 200v3h1v-3zM99 206v3h1v-3zM99 212v3h1v-3zM99 218v3h1v-3zM99 224v3h1v-3zM99 230v3h1v-3zM99 236v3h1v-3zM99 242v3h1v-3zM99 248v3h1v-3zM99 254v3h1v-3zM99 260v3h1v-3zM99 266v3h1v-3zM99 272v3h1v-3zM99 278v3h1v-3zM99 284v3h1v-3zM99 290v3h1v-3zM99 296v3h1v-3zM99 302v3h1v-3zM99 308v3h1v-3zM99 314v3h1v-3zM99 320v3h1v-3zM99 326v3h1v-3zM99 332v3h1v-3zM99 338v3h1v-3zM99 344v3h1v-3zM99 350v3h1v-3zM99 356v3h1v-3zM99 362v3h1v-3zM99 368v3h1v-3zM99 374v3h1v-3zM99 380v3h1v-3zM99 386v3h1v-3zM99 392v3h1v-3zM99 398v3h1v-3zM99 404v3h1v-3zM99 410v3h1v-3zM99 416v3h1v-3zM99 422v3h1v-3zM99 428v3h1v-3zM99 434v3h1v-3zM99 440v3h1v-3zM99 446v3h1v-3zM99 452v3h1v-3zM99 458v3h1v-3zM99 464v3h1v-3zM99 470v3h1v-3zM99 476v3h1v-3zM99 482v3h1v-3zM99 488v3h1v-3zM99 494v3h1v-3zM99 500v3h1v-3zM99 506v3h1v-3zM99 512v3h1v-3zM99 518v3h1v-3zM99 524v3h1v-3zM99 530v3h1v-3zM99 536v3h1v-3zM99 542v3h1v-3zM99 548v3h1v-3zM99 554v3h1v-3zM99 560v3h1v-3zM99 566v3h1v-3zM99 572v3h1v-3zM99 578v3h1v-3zM131 3v2h1v-2zM131 8v3h1v-3zM131 14v3h1v-3zM131 20v3h1v-3zM131 26v3h1v-3zM131 32v3h1v-3zM131 38v3h1v-3zM131 44v3h1v-3zM131 50v3h1v-3zM131 56v3h1v-3zM131 62v3h1v-3zM131 68v3h1v-3zM131 74v3h1v-3zM131 80v3h1v-3zM131 86v3h1v-3zM131 92v3h1v-3zM131 98v3h1v-3zM131 104v3h1v-3zM131 110v3h1v-3zM131 116v3h1v-3zM131 122v3h1v-3zM131 128v3h1v-3zM131 134v3h1v-3zM131 140v3h1v-3zM131 146v3h1v-3zM131 152v3h1v-3zM131 158v3h1v-3zM131 164v3h1v-3zM131 170v3h1v-3zM131 176v3h1v-3zM131 182v3h1v-3zM131 188v3h1v-3zM131 194v3h1v-3zM131 200v3h1v-3zM131 206v3h1v-3zM131 212v3h1v-3zM131 218v3h1v-3zM131 224v3h1v-3zM131 230v3h1v-3zM131 236v3h1v-3zM131 242v3h1v-3zM131 248v3h1v-3zM131 254v3h1v-3zM131 260v3h1v-3zM131 266v3h1v-3zM131 272v3h1v-3zM131 278v3h1v-3zM131 284v3h1v-3zM131 290v3h1v-3zM131 296v3h1v-3zM131 302v3h1v-3zM131 308v3h1v-3zM131 314v3h1v-3zM131 320v3h1v-3zM131 326v3h1v-3zM131 332v3h1v-3zM131 338v3h1v-3zM131 344v3h1v-3zM131 350v3h1v-3zM131 356v3h1v-3zM131 362v3h1v-3zM131 368v3h1v-3zM131 374v3h1v-3zM131 380v3h1v-3zM131 386v3h1v-3zM131 392v3h1v-3zM131 398v3h1v-3zM131 404v3h1v-3zM131 410v3h1v-3zM131 416v3h1v-3zM131 422v3h1v-3zM131 428v3h1v-3zM131 434v3h1v-3zM131 440v3h1v-3zM131 446v3h1v-3zM131 452v3h1v-3zM131 458v3h1v-3zM131 464v3h1v-3zM131 470v3h1v-3zM131 476v3h1v-3zM131 482v3h1v-3zM131 488v3h1v-3zM131 494v3h1v-3zM131 500v3h1v-3zM131 506v3h1v-3zM131 512v3h1v-3zM131 518v3h1v-3zM131 524v3h1v-3zM131 530v3h1v-3zM131 536v3h1v-3zM131 542v3h1v-3zM131 548v3h1v-3zM131 554v3h1v-3zM131 560v3h1v-3zM131 566v3h1v-3zM131 572v3h1v-3zM131 578v3h1v-3zM163 3v2h1v-2zM163 8v3h1v-3zM163 14v3h1v-3zM163 20v3h1v-3zM163 26v3h1v-3zM163 32v3h1v-3zM163 38v3h1v-3zM163 44v3h1v-3zM163 50v3h1v-3zM163 56v3h1v-3zM163 62v3h1v-3zM163 68v3h1v-3zM163 74v3h1v-3zM163 80v3h1v-3zM163 86v3h1v-3zM163 92v3h1v-3zM163 98v3h1v-3zM163 104v3h1v-3zM163 110v3h1v-3zM163 116v3h1v-3zM163 122v3h1v-3zM163 128v3h1v-3zM163 134v3h1v-3zM163 140v3h1v-3zM163 146v3h1v-3zM163 152v3h1v-3zM163 158v3h1v-3zM163 164v3h1v-3zM163 170v3h1v-3zM163 176v3h1v-3zM163 182v3h1v-3zM163 188v3h1v-3zM163 194v3h1v-3zM163 200v3h1v-3zM163 206v3h1v-3zM163 212v3h1v-3zM163 218v3h1v-3zM163 224v3h1v-3zM163 230v3h1v-3zM163 236v3h1v-3zM163 242v3h1v-3zM163 248v3h1v-3zM163 254v3h1v-3zM163 260v3h1v-3zM163 266v3h1v-3zM163 272v3h1v-3zM163 278v3h1v-3zM163 284v3h1v-3zM163 290v3h1v-3zM163 296v3h1v-3zM163 302v3h1v-3zM163 308v3h1v-3zM163 314v3h1v-3zM163 320v3h1v-3zM163 326v3h1v-3zM163 332v3h1v-3zM163 338v3h1v-3zM163 344v3h1v-3zM163 350v3h1v-3zM163 356v3h1v-3zM163 362v3h1v-3zM163 368v3h1v-3zM163 374v3h1v-3zM163 380v3h1v-3zM163 386v3h1v-3zM163 392v3h1v-3zM163 398v3h1v-3zM163 404v3h1v-3zM163 410v3h1v-3zM163 416v3h1v-3zM163 422v3h1v-3zM163 428v3h1v-3zM163 434v3h1v-3zM163 440v3h1v-3zM163 446v3h1v-3zM163 452v3h1v-3zM163 458v3h1v-3zM163 464v3h1v-3zM163 470v3h1v-3zM163 476v3h1v-3zM163 482v3h1v-3zM163 488v3h1v-3zM163 494v3h1v-3zM163 500v3h1v-3zM163 506v3h1v-3zM163 512v3h1v-3zM163 518v3h1v-3zM163 524v3h1v-3zM163 530v3h1v-3zM163 536v3h1v-3zM163 542v3h1v-3zM163 548v3h1v-3zM163 554v3h1v-3zM163 560v3h1v-3zM163 566v3h1v-3zM163 572v3h1v-3zM163 578v3h1v-3zM195 3v2h1v-2zM195 8v3h1v-3zM195 14v3h1v-3zM195 20v3h1v-3zM195 26v3h1v-3zM195 32v3h1v-3zM195 38v3h1v-3zM195 44v3h1v-3zM195 50v3h1v-3zM195 56v3h1v-3zM195 62v3h1v-3zM195 68v3h1v-3zM195 74v3h1v-3zM195 80v3h1v-3zM195 86v3h1v-3zM195 92v3h1v-3zM195 98v3h1v-3zM195 104v3h1v-3zM195 110v3h1v-3zM195 116v3h1v-3zM195 122v3h1v-3zM195 128v3h1v-3zM195 134v3h1v-3zM195 140v3h1v-3zM195 146v3h1v-3zM195 152v3h1v-3zM195 158v3h1v-3zM195 164v3h1v-3zM195 170v3h1v-3zM195 176v3h1v-3zM195 182v3h1v-3zM195 188v3h1v-3zM195 194v3h1v-3zM195 200v3h1v-3zM195 206v3h1v-3zM195 212v3h1v-3zM195 218v3h1v-3zM195 224v3h1v-3zM195 230v3h1v-3zM195 236v3h1v-3zM195 242v3h1v-3zM195 248v3h1v-3zM195 254v3h1v-3zM195 260v3h1v-3zM195 266v3h1v-3zM195 272v3h1v-3zM195 278v3h1v-3zM195 284v3h1v-3zM195 290v3h1v-3zM195 296v3h1v-3zM195 302v3h1v-3zM195 308v3h1v-3zM195 314v3h1v-3zM195 320v3h1v-3zM195 326v3h1v-3zM195 332v3h1v-3zM195 338v3h1v-3zM195 344v3h1v-3zM195 350v3h1v-3zM195 356v3h1v-3zM195 362v3h1v-3zM195 368v3h1v-3zM195 374v3h1v-3zM195 380v3h1v-3zM195 386v3h1v-3zM195 392v3h1v-3zM195 398v3h1v-3zM195 404v3h1v-3zM195 410v3h1v-3zM195 416v3h1v-3zM195 422v3h1v-3zM195 428v3h1v-3zM195 434v3h1v-3zM195 440v3h1v-3zM195 446v3h1v-3zM195 452v3h1v-3zM195 458v3h1v-3zM195 464v3h1v-3zM195 470v3h1v-3zM195 476v3h1v-3zM195 482v3h1v-3zM195 488v3h1v-3zM195 494v3h1v-3zM195 500v3h1v-3zM195 506v3h1v-3zM195 512v3h1v-3zM195 518v3h1v-3zM195 524v3h1v-3zM195 530v3h1v-3zM195 536v3h1v-3zM195 542v3h1v-3zM195 548v3h1v-3zM195 554v3h1v-3zM195 560v3h1v-3zM195 566v3h1v-3zM195 572v3h1v-3zM195 578v3h1v-3zM227 3v2h1v-2zM227 8v3h1v-3zM227 14v3h1v-3zM227 20v3h1v-3zM227 26v3h1v-3zM227 32v3h1v-3zM227 38v3h1v-3zM227 44v3h1v-3zM227 50v3h1v-3zM227 56v3h1v-3zM227 62v3h1v-3zM227 68v3h1v-3zM227 74v3h1v-3zM227 80v3h1v-3zM227 86v3h1v-3zM227 92v3h1v-3zM227 98v3h1v-3zM227 104v3h1v-3zM227 110v3h1v-3zM227 116v3h1v-3zM227 122v3h1v-3zM227 128v3h1v-3zM227 134v3h1v-3zM227 140v3h1v-3zM227 146v3h1v-3zM227 152v3h1v-3zM227 158v3h1v-3zM227 164v3h1v-3zM227 170v3h1v-3zM227 176v3h1v-3zM227 182v3h1v-3zM227 188v3h1v-3zM227 194v3h1v-3zM227 200v3h1v-3zM227 206v3h1v-3zM227 212v3h1v-3zM227 218v3h1v-3zM227 224v3h1v-3zM227 230v3h1v-3zM227 236v3h1v-3zM227 242v3h1v-3zM227 248v3h1v-3zM227 254v3h1v-3zM227 260v3h1v-3zM227 266v3h1v-3zM227 272v3h1v-3zM227 278v3h1v-3zM227 284v3h1v-3zM227 290v3h1v-3zM227 296v3h1v-3zM227 302v3h1v-3zM227 308v3h1v-3zM227 314v3h1v-3zM227 320v3h1v-3zM227 326v3h1v-3zM227 332v3h1v-3zM227 338v3h1v-3zM227 344v3h1v-3zM227 350v3h1v-3zM227 356v3h1v-3zM227 362v3h1v-3zM227 368v3h1v-3zM227 374v3h1v-3zM227 380v3h1v-3zM227 386v3h1v-3zM227 392v3h1v-3zM227 398v3h1v-3zM227 404v3h1v-3zM227 410v3h1v-3zM227 416v3h1v-3zM227 422v3h1v-3zM227 428v3h1v-3zM227 434v3h1v-3zM227 440v3h1v-3zM227 446v3h1v-3zM227 452v3h1v-3zM227 458v3h1v-3zM227 464v3h1v-3zM227 470v3h1v-3zM227 476v3h1v-3zM227 482v3h1v-3zM227 488v3h1v-3zM227 494v3h1v-3zM227 500v3h1v-3zM227 506v3h1v-3zM227 512v3h1v-3zM227 518v3h1v-3zM227 524v3h1v-3zM227 530v3h1v-3zM227 536v3h1v-3zM227 542v3h1v-3zM227 548v3h1v-3zM227 554v3h1v-3zM227 560v3h1v-3zM227 566v3h1v-3zM227 572v3h1v-3zM227 578v3h1v-3zM259 3v2h1v-2zM259 8v3h1v-3zM259 14v3h1v-3zM259 20v3h1v-3zM259 26v3h1v-3zM259 32v3h1v-3zM259 38v3h1v-3zM259 44v3h1v-3zM259 50v3h1v-3zM259 56v3h1v-3zM259 62v3h1v-3zM259 68v3h1v-3zM259 74v3h1v-3zM259 80v3h1v-3zM259 86v3h1v-3zM259 92v3h1v-3zM259 98v3h1v-3zM259 104v3h1v-3zM259 110v3h1v-3zM259 116v3h1v-3zM259 122v3h1v-3zM259 128v3h1v-3zM259 134v3h1v-3zM259 140v3h1v-3zM259 146v3h1v-3zM259 152v3h1v-3zM259 158v3h1v-3zM259 164v3h1v-3zM259 170v3h1v-3zM259 176v3h1v-3zM259 182v3h1v-3zM259 188v3h1v-3zM259 194v3h1v-3zM259 200v3h1v-3zM259 206v3h1v-3zM259 212v3h1v-3zM259 218v3h1v-3zM259 224v3h1v-3zM259 230v3h1v-3zM259 236v3h1v-3zM259 242v3h1v-3zM259 248v3h1v-3zM259 254v3h1v-3zM259 260v3h1v-3zM259 266v3h1v-3zM259 272v3h1v-3zM259 278v3h1v-3zM259 284v3h1v-3zM259 290v3h1v-3zM259 296v3h1v-3zM259 302v3h1v-3zM259 308v3h1v-3zM259 314v3h1v-3zM259 320v3h1v-3zM259 326v3h1v-3zM259 332v3h1v-3zM259 338v3h1v-3zM259 344v3h1v-3zM259 350v3h1v-3zM259 356v3h1v-3zM259 362v3h1v-3zM259 368v3h1v-3zM259 374v3h1v-3zM259 380v3h1v-3zM259 386v3h1v-3zM259 392v3h1v-3zM259 398v3h1v-3zM259 404v3h1v-3zM259 410v3h1v-3zM259 416v3h1v-3zM259 422v3h1v-3zM259 428v3h1v-3zM259 434v3h1v-3zM259 440v3h1v-3zM259 446v3h1v-3zM259 452v3h1v-3zM259 458v3h1v-3zM259 464v3h1v-3zM259 470v3h1v-3zM259 476v3h1v-3zM259 482v3h1v-3zM259 488v3h1v-3zM259 494v3h1v-3zM259 500v3h1v-3zM259 506v3h1v-3zM259 512v3h1v-3zM259 518v3h1v-3zM259 524v3h1v-3zM259 530v3h1v-3zM259 536v3h1v-3zM259 542v3h1v-3zM259 548v3h1v-3zM259 554v3h1v-3zM259 560v3h1v-3zM259 566v3h1v-3zM259 572v3h1v-3zM259 578v3h1v-3zM291 3v2h1v-2zM291 8v3h1v-3zM291 14v3h1v-3zM291 20v3h1v-3zM291 26v3h1v-3zM291 32v3h1v-3zM291 38v3h1v-3zM291 44v3h1v-3zM291 50v3h1v-3zM291 56v3h1v-3zM291 62v3h1v-3zM291 68v3h1v-3zM291 74v3h1v-3zM291 80v3h1v-3zM291 86v3h1v-3zM291 92v3h1v-3zM291 98v3h1v-3zM291 104v3h1v-3zM291 110v3h1v-3zM291 116v3h1v-3zM291 122v3h1v-3zM291 128v3h1v-3zM291 134v3h1v-3zM291 140v3h1v-3zM291 146v3h1v-3zM291 152v3h1v-3zM291 158v3h1v-3zM291 164v3h1v-3zM291 170v3h1v-3zM291 176v3h1v-3zM291 182v3h1v-3zM291 188v3h1v-3zM291 194v3h1v-3zM291 200v3h1v-3zM291 206v3h1v-3zM291 212v3h1v-3zM291 218v3h1v-3zM291 224v3h1v-3zM291 230v3h1v-3zM291 236v3h1v-3zM291 242v3h1v-3zM291 248v3h1v-3zM291 254v3h1v-3zM291 260v3h1v-3zM291 266v3h1v-3zM291 272v3h1v-3zM291 278v3h1v-3zM291 284v3h1v-3zM291 290v3h1v-3zM291 296v3h1v-3zM291 302v3h1v-3zM291 308v3h1v-3zM291 314v3h1v-3zM291 320v3h1v-3zM291 326v3h1v-3zM291 332v3h1v-3zM291 338v3h1v-3zM291 344v3h1v-3zM291 350v3h1v-3zM291 356v3h1v-3zM291 362v3h1v-3zM291 368v3h1v-3zM291 374v3h1v-3zM291 380v3h1v-3zM291 386v3h1v-3zM291 392v3h1v-3zM291 398v3h1v-3zM291 404v3h1v-3zM291 410v3h1v-3zM291 416v3h1v-3zM291 422v3h1v-3zM291 428v3h1v-3zM291 434v3h1v-3zM291 440v3h1v-3zM291 446v3h1v-3zM291 452v3h1v-3zM291 458v3h1v-3zM291 464v3h1v-3zM291 470v3h1v-3zM291 476v3h1v-3zM291 482v3h1v-3zM291 488v3h1v-3zM291 494v3h1v-3zM291 500v3h1v-3zM291 506v3h1v-3zM291 512v3h1v-3zM291 518v3h1v-3zM291 524v3h1v-3zM291 530v3h1v-3zM291 536v3h1v-3zM291 542v3h1v-3zM291 548v3h1v-3zM291 554v3h1v-3zM291 560v3h1v-3zM291 566v3h1v-3zM291 572v3h1v-3zM291 578v3h1v-3zM323 3v2h1v-2zM323 8v3h1v-3zM323 14v3h1v-3zM323 20v3h1v-3zM323 26v3h1v-3zM323 32v3h1v-3zM323 38v3h1v-3zM323 44v3h1v-3zM323 50v3h1v-3zM323 56v3h1v-3zM323 62v3h1v-3zM323 68v3h1v-3zM323 74v3h1v-3zM323 80v3h1v-3zM323 86v3h1v-3zM323 92v3h1v-3zM323 98v3h1v-3zM323 104v3h1v-3zM323 110v3h1v-3zM323 116v3h1v-3zM323 122v3h1v-3zM323 128v3h1v-3zM323 134v3h1v-3zM323 140v3h1v-3zM323 146v3h1v-3zM323 152v3h1v-3zM323 158v3h1v-3zM323 164v3h1v-3zM323 170v3h1v-3zM323 176v3h1v-3zM323 182v3h1v-3zM323 188v3h1v-3zM323 194v3h1v-3zM323 200v3h1v-3zM323 206v3h1v-3zM323 212v3h1v-3zM323 218v3h1v-3zM323 224v3h1v-3zM323 230v3h1v-3zM323 236v3h1v-3zM323 242v3h1v-3zM323 248v3h1v-3zM323 254v3h1v-3zM323 260v3h1v-3zM323 266v3h1v-3zM323 272v3h1v-3zM323 278v3h1v-3zM323 284v3h1v-3zM323 290v3h1v-3zM323 296v3h1v-3zM323 302v3h1v-3zM323 308v3h1v-3zM323 314v3h1v-3zM323 320v3h1v-3zM323 326v3h1v-3zM323 332v3h1v-3zM323 338v3h1v-3zM323 344v3h1v-3zM323 350v3h1v-3zM323 356v3h1v-3zM323 362v3h1v-3zM323 368v3h1v-3zM323 374v3h1v-3zM323 380v3h1v-3zM323 386v3h1v-3zM323 392v3h1v-3zM323 398v3h1v-3zM323 404v3h1v-3zM323 410v3h1v-3zM323 416v3h1v-3zM323 422v3h1v-3zM323 428v3h1v-3zM323 434v3h1v-3zM323 440v3h1v-3zM323 446v3h1v-3zM323 452v3h1v-3zM323 458v3h1v-3zM323 464v3h1v-3zM323 470v3h1v-3zM323 476v3h1v-3zM323 482v3h1v-3zM323 488v3h1v-3zM323 494v3h1v-3zM323 500v3h1v-3zM323 506v3h1v-3zM323 512v3h1v-3zM323 518v3h1v-3zM323 524v3h1v-3zM323 530v3h1v-3zM323 536v3h1v-3zM323 542v3h1v-3zM323 548v3h1v-3zM323 554v3h1v-3zM323 560v3h1v-3zM323 566v3h1v-3zM323 572v3h1v-3zM323 578v3h1v-3zM355 3v2h1v-2zM355 8v3h1v-3zM355 14v3h1v-3zM355 20v3h1v-3zM355 26v3h1v-3zM355 32v3h1v-3zM355 38v3h1v-3zM355 44v3h1v-3zM355 50v3h1v-3zM355 56v3h1v-3zM355 62v3h1v-3zM355 68v3h1v-3zM355 74v3h1v-3zM355 80v3h1v-3zM355 86v3h1v-3zM355 92v3h1v-3zM355 98v3h1v-3zM355 104v3h1v-3zM355 110v3h1v-3zM355 116v3h1v-3zM355 122v3h1v-3zM355 128v3h1v-3zM355 134v3h1v-3zM355 140v3h1v-3zM355 146v3h1v-3zM355 152v3h1v-3zM355 158v3h1v-3zM355 164v3h1v-3zM355 170v3h1v-3zM355 176v3h1v-3zM355 182v3h1v-3zM355 188v3h1v-3zM355 194v3h1v-3zM355 200v3h1v-3zM355 206v3h1v-3zM355 212v3h1v-3zM355 218v3h1v-3zM355 224v3h1v-3zM355 230v3h1v-3zM355 236v3h1v-3zM355 242v3h1v-3zM355 248v3h1v-3zM355 254v3h1v-3zM355 260v3h1v-3zM355 266v3h1v-3zM355 272v3h1v-3zM355 278v3h1v-3zM355 284v3h1v-3zM355 290v3h1v-3zM355 296v3h1v-3zM355 302v3h1v-3zM355 308v3h1v-3zM355 314v3h1v-3zM355 320v3h1v-3zM355 326v3h1v-3zM355 332v3h1v-3zM355 338v3h1v-3zM355 344v3h1v-3zM355 350v3h1v-3zM355 356v3h1v-3zM355 362v3h1v-3zM355 368v3h1v-3zM355 374v3h1v-3zM355 380v3h1v-3zM355 386v3h1v-3zM355 392v3h1v-3zM355 398v3h1v-3zM355 404v3h1v-3zM355 410v3h1v-3zM355 416v3h1v-3zM355 422v3h1v-3zM355 428v3h1v-3zM355 434v3h1v-3zM355 440v3h1v-3zM355 446v3h1v-3zM355 452v3h1v-3zM355 458v3h1v-3zM355 464v3h1v-3zM355 470v3h1v-3zM355 476v3h1v-3zM355 482v3h1v-3zM355 488v3h1v-3zM355 494v3h1v-3zM355 500v3h1v-3zM355 506v3h1v-3zM355 512v3h1v-3zM355 518v3h1v-3zM355 524v3h1v-3zM355 530v3h1v-3zM355 536v3h1v-3zM355 542v3h1v-3zM355 548v3h1v-3zM355 554v3h1v-3zM355 560v3h1v-3zM355 566v3h1v-3zM355 572v3h1v-3zM355 578v3h1v-3zM387 3v2h1v-2zM387 8v3h1v-3zM387 14v3h1v-3zM387 20v3h1v-3zM387 26v3h1v-3zM387 32v3h1v-3zM387 38v3h1v-3zM387 44v3h1v-3zM387 50v3h1v-3zM387 56v3h1v-3zM387 62v3h1v-3zM387 68v3h1v-3zM387 74v3h1v-3zM387 80v3h1v-3zM387 86v3h1v-3zM387 92v3h1v-3zM387 98v3h1v-3zM387 104v3h1v-3zM387 110v3h1v-3zM387 116v3h1v-3zM387 122v3h1v-3zM387 128v3h1v-3zM387 134v3h1v-3zM387 140v3h1v-3zM387 146v3h1v-3zM387 152v3h1v-3zM387 158v3h1v-3zM387 164v3h1v-3zM387 170v3h1v-3zM387 176v3h1v-3zM387 182v3h1v-3zM387 188v3h1v-3zM387 194v3h1v-3zM387 200v3h1v-3zM387 206v3h1v-3zM387 212v3h1v-3zM387 218v3h1v-3zM387 224v3h1v-3zM387 230v3h1v-3zM387 236v3h1v-3zM387 242v3h1v-3zM387 248v3h1v-3zM387 254v3h1v-3zM387 260v3h1v-3zM387 266v3h1v-3zM387 272v3h1v-3zM387 278v3h1v-3zM387 284v3h1v-3zM387 290v3h1v-3zM387 296v3h1v-3zM387 302v3h1v-3zM387 308v3h1v-3zM387 314v3h1v-3zM387 320v3h1v-3zM387 326v3h1v-3zM387 332v3h1v-3zM387 338v3h1v-3zM387 344v3h1v-3zM387 350v3h1v-3zM387 356v3h1v-3zM387 362v3h1v-3zM387 368v3h1v-3zM387 374v3h1v-3zM387 380v3h1v-3zM387 386v3h1v-3zM387 392v3h1v-3zM387 398v3h1v-3zM387 404v3h1v-3zM387 410v3h1v-3zM387 416v3h1v-3zM387 422v3h1v-3zM387 428v3h1v-3zM387 434v3h1v-3zM387 440v3h1v-3zM387 446v3h1v-3zM387 452v3h1v-3zM387 458v3h1v-3zM387 464v3h1v-3zM387 470v3h1v-3zM387 476v3h1v-3zM387 482v3h1v-3zM387 488v3h1v-3zM387 494v3h1v-3zM387 500v3h1v-3zM387 506v3h1v-3zM387 512v3h1v-3zM387 518v3h1v-3zM387 524v3h1v-3zM387 530v3h1v-3zM387 536v3h1v-3zM387 542v3h1v-3zM387 548v3h1v-3zM387 554v3h1v-3zM387 560v3h1v-3zM387 566v3h1v-3zM387 572v3h1v-3zM387 578v3h1v-3zM419 3v2h1v-2zM419 8v3h1v-3zM419 14v3h1v-3zM419 20v3h1v-3zM419 26v3h1v-3zM419 32v3h1v-3zM419 38v3h1v-3zM419 44v3h1v-3zM419 50v3h1v-3zM419 56v3h1v-3zM419 62v3h1v-3zM419 68v3h1v-3zM419 74v3h1v-3zM419 80v3h1v-3zM419 86v3h1v-3zM419 92v3h1v-3zM419 98v3h1v-3zM419 104v3h1v-3zM419 110v3h1v-3zM419 116v3h1v-3zM419 122v3h1v-3zM419 128v3h1v-3zM419 134v3h1v-3zM419 140v3h1v-3zM419 146v3h1v-3zM419 152v3h1v-3zM419 158v3h1v-3zM419 164v3h1v-3zM419 170v3h1v-3zM419 176v3h1v-3zM419 182v3h1v-3zM419 188v3h1v-3zM419 194v3h1v-3zM419 200v3h1v-3zM419 206v3h1v-3zM419 212v3h1v-3zM419 218v3h1v-3zM419 224v3h1v-3zM419 230v3h1v-3zM419 236v3h1v-3zM419 242v3h1v-3zM419 248v3h1v-3zM419 254v3h1v-3zM419 260v3h1v-3zM419 266v3h1v-3zM419 272v3h1v-3zM419 278v3h1v-3zM419 284v3h1v-3zM419 290v3h1v-3zM419 296v3h1v-3zM419 302v3h1v-3zM419 308v3h1v-3zM419 314v3h1v-3zM419 320v3h1v-3zM419 326v3h1v-3zM419 332v3h1v-3zM419 338v3h1v-3zM419 344v3h1v-3zM419 350v3h1v-3zM419 356v3h1v-3zM419 362v3h1v-3zM419 368v3h1v-3zM419 374v3h1v-3zM419 380v3h1v-3zM419 386v3h1v-3zM419 392v3h1v-3zM419 398v3h1v-3zM419 404v3h1v-3zM419 410v3h1v-3zM419 416v3h1v-3zM419 422v3h1v-3zM419 428v3h1v-3zM419 434v3h1v-3zM419 440v3h1v-3zM419 446v3h1v-3zM419 452v3h1v-3zM419 458v3h1v-3zM419 464v3h1v-3zM419 470v3h1v-3zM419 476v3h1v-3zM419 482v3h1v-3zM419 488v3h1v-3zM419 494v3h1v-3zM419 500v3h1v-3zM419 506v3h1v-3zM419 512v3h1v-3zM419 518v3h1v-3zM419 524v3h1v-3zM419 530v3h1v-3zM419 536v3h1v-3zM419 542v3h1v-3zM419 548v3h1v-3zM419 554v3h1v-3zM419 560v3h1v-3zM419 566v3h1v-3zM419 572v3h1v-3zM419 578v3h1v-3zM451 3v2h1v-2zM451 8v3h1v-3zM451 14v3h1v-3zM451 20v3h1v-3zM451 26v3h1v-3zM451 32v3h1v-3zM451 38v3h1v-3zM451 44v3h1v-3zM451 50v3h1v-3zM451 56v3h1v-3zM451 62v3h1v-3zM451 68v3h1v-3zM451 74v3h1v-3zM451 80v3h1v-3zM451 86v3h1v-3zM451 92v3h1v-3zM451 98v3h1v-3zM451 104v3h1v-3zM451 110v3h1v-3zM451 116v3h1v-3zM451 122v3h1v-3zM451 128v3h1v-3zM451 134v3h1v-3zM451 140v3h1v-3zM451 146v3h1v-3zM451 152v3h1v-3zM451 158v3h1v-3zM451 164v3h1v-3zM451 170v3h1v-3zM451 176v3h1v-3zM451 182v3h1v-3zM451 188v3h1v-3zM451 194v3h1v-3zM451 200v3h1v-3zM451 206v3h1v-3zM451 212v3h1v-3zM451 218v3h1v-3zM451 224v3h1v-3zM451 230v3h1v-3zM451 236v3h1v-3zM451 242v3h1v-3zM451 248v3h1v-3zM451 254v3h1v-3zM451 260v3h1v-3zM451 266v3h1v-3zM451 272v3h1v-3zM451 278v3h1v-3zM451 284v3h1v-3zM451 290v3h1v-3zM451 296v3h1v-3zM451 302v3h1v-3zM451 308v3h1v-3zM451 314v3h1v-3zM451 320v3h1v-3zM451 326v3h1v-3zM451 332v3h1v-3zM451 338v3h1v-3zM451 344v3h1v-3zM451 350v3h1v-3zM451 356v3h1v-3zM451 362v3h1v-3zM451 368v3h1v-3zM451 374v3h1v-3zM451 380v3h1v-3zM451 386v3h1v-3zM451 392v3h1v-3zM451 398v3h1v-3zM451 404v3h1v-3zM451 410v3h1v-3zM451 416v3h1v-3zM451 422v3h1v-3zM451 428v3h1v-3zM451 434v3h1v-3zM451 440v3h1v-3zM451 446v3h1v-3zM451 452v3h1v-3zM451 458v3h1v-3zM451 464v3h1v-3zM451 470v3h1v-3zM451 476v3h1v-3zM451 482v3h1v-3zM451 488v3h1v-3zM451 494v3h1v-3zM451 500v3h1v-3zM451 506v3h1v-3zM451 512v3h1v-3zM451 518v3h1v-3zM451 524v3h1v-3zM451 530v3h1v-3zM451 536v3h1v-3zM451 542v3h1v-3zM451 548v3h1v-3zM451 554v3h1v-3zM451 560v3h1v-3zM451 566v3h1v-3zM451 572v3h1v-3zM451 578v3h1v-3zM483 3v2h1v-2zM483 8v3h1v-3zM483 14v3h1v-3zM483 20v3h1v-3zM483 26v3h1v-3zM483 32v3h1v-3zM483 38v3h1v-3zM483 44v3h1v-3zM483 50v3h1v-3zM483 56v3h1v-3zM483 62v3h1v-3zM483 68v3h1v-3zM483 74v3h1v-3zM483 80v3h1v-3zM483 86v3h1v-3zM483 92v3h1v-3zM483 98v3h1v-3zM483 104v3h1v-3zM483 110v3h1v-3zM483 116v3h1v-3zM483 122v3h1v-3zM483 128v3h1v-3zM483 134v3h1v-3zM483 140v3h1v-3zM483 146v3h1v-3zM483 152v3h1v-3zM483 158v3h1v-3zM483 164v3h1v-3zM483 170v3h1v-3zM483 176v3h1v-3zM483 182v3h1v-3zM483 188v3h1v-3zM483 194v3h1v-3zM483 200v3h1v-3zM483 206v3h1v-3zM483 212v3h1v-3zM483 218v3h1v-3zM483 224v3h1v-3zM483 230v3h1v-3zM483 236v3h1v-3zM483 242v3h1v-3zM483 248v3h1v-3zM483 254v3h1v-3zM483 260v3h1v-3zM483 266v3h1v-3zM483 272v3h1v-3zM483 278v3h1v-3zM483 284v3h1v-3zM483 290v3h1v-3zM483 296v3h1v-3zM483 302v3h1v-3zM483 308v3h1v-3zM483 314v3h1v-3zM483 320v3h1v-3zM483 326v3h1v-3zM483 332v3h1v-3zM483 338v3h1v-3zM483 344v3h1v-3zM483 350v3h1v-3zM483 356v3h1v-3zM483 362v3h1v-3zM483 368v3h1v-3zM483 374v3h1v-3zM483 380v3h1v-3zM483 386v3h1v-3zM483 392v3h1v-3zM483 398v3h1v-3zM483 404v3h1v-3zM483 410v3h1v-3zM483 416v3h1v-3zM483 422v3h1v-3zM483 428v3h1v-3zM483 434v3h1v-3zM483 440v3h1v-3zM483 446v3h1v-3zM483 452v3h1v-3zM483 458v3h1v-3zM483 464v3h1v-3zM483 470v3h1v-3zM483 476v3h1v-3zM483 482v3h1v-3zM483 488v3h1v-3zM483 494v3h1v-3zM483 500v3h1v-3zM483 506v3h1v-3zM483 512v3h1v-3zM483 518v3h1v-3zM483 524v3h1v-3zM483 530v3h1v-3zM483 536v3h1v-3zM483 542v3h1v-3zM483 548v3h1v-3zM483 554v3h1v-3zM483 560v3h1v-3zM483 566v3h1v-3zM483 572v3h1v-3zM483 578v3h1v-3zM515 3v2h1v-2zM515 8v3h1v-3zM515 14v3h1v-3zM515 20v3h1v-3zM515 26v3h1v-3zM515 32v3h1v-3zM515 38v3h1v-3zM515 44v3h1v-3zM515 50v3h1v-3zM515 56v3h1v-3zM515 62v3h1v-3zM515 68v3h1v-3zM515 74v3h1v-3zM515 80v3h1v-3zM515 86v3h1v-3zM515 92v3h1v-3zM515 98v3h1v-3zM515 104v3h1v-3zM515 110v3h1v-3zM515 116v3h1v-3zM515 122v3h1v-3zM515 128v3h1v-3zM515 134v3h1v-3zM515 140v3h1v-3zM515 146v3h1v-3zM515 152v3h1v-3zM515 158v3h1v-3zM515 164v3h1v-3zM515 170v3h1v-3zM515 176v3h1v-3zM515 182v3h1v-3zM515 188v3h1v-3zM515 194v3h1v-3zM515 200v3h1v-3zM515 206v3h1v-3zM515 212v3h1v-3zM515 218v3h1v-3zM515 224v3h1v-3zM515 230v3h1v-3zM515 236v3h1v-3zM515 242v3h1v-3zM515 248v3h1v-3zM515 254v3h1v-3zM515 260v3h1v-3zM515 266v3h1v-3zM515 272v3h1v-3zM515 278v3h1v-3zM515 284v3h1v-3zM515 290v3h1v-3zM515 296v3h1v-3zM515 302v3h1v-3zM515 308v3h1v-3zM515 314v3h1v-3zM515 320v3h1v-3zM515 326v3h1v-3zM515 332v3h1v-3zM515 338v3h1v-3zM515 344v3h1v-3zM515 350v3h1v-3zM515 356v3h1v-3zM515 362v3h1v-3zM515 368v3h1v-3zM515 374v3h1v-3zM515 380v3h1v-3zM515 386v3h1v-3zM515 392v3h1v-3zM515 398v3h1v-3zM515 404v3h1v-3zM515 410v3h1v-3zM515 416v3h1v-3zM515 422v3h1v-3zM515 428v3h1v-3zM515 434v3h1v-3zM515 440v3h1v-3zM515 446v3h1v-3zM515 452v3h1v-3zM515 458v3h1v-3zM515 464v3h1v-3zM515 470v3h1v-3zM515 476v3h1v-3zM515 482v3h1v-3zM515 488v3h1v-3zM515 494v3h1v-3zM515 500v3h1v-3zM515 506v3h1v-3zM515 512v3h1v-3zM515 518v3h1v-3zM515 524v3h1v-3zM515 530v3h1v-3zM515 536v3h1v-3zM515 542v3h1v-3zM515 548v3h1v-3zM515 554v3h1v-3zM515 560v3h1v-3zM515 566v3h1v-3zM515 572v3h1v-3zM515 578v3h1v-3zM547 3v2h1v-2zM547 8v3h1v-3zM547 14v3h1v-3zM547 20v3h1v-3zM547 26v3h1v-3zM547 32v3h1v-3zM547 38v3h1v-3zM547 44v3h1v-3zM547 50v3h1v-3zM547 56v3h1v-3zM547 62v3h1v-3zM547 68v3h1v-3zM547 74v3h1v-3zM547 80v3h1v-3zM547 86v3h1v-3zM547 92v3h1v-3zM547 98v3h1v-3zM547 104v3h1v-3zM547 110v3h1v-3zM547 116v3h1v-3zM547 122v3h1v-3zM547 128v3h1v-3zM547 134v3h1v-3zM547 140v3h1v-3zM547 146v3h1v-3zM547 152v3h1v-3zM547 158v3h1v-3zM547 164v3h1v-3zM547 170v3h1v-3zM547 176v3h1v-3zM547 182v3h1v-3zM547 188v3h1v-3zM547 194v3h1v-3zM547 200v3h1v-3zM547 206v3h1v-3zM547 212v3h1v-3zM547 218v3h1v-3zM547 224v3h1v-3zM547 230v3h1v-3zM547 236v3h1v-3zM547 242v3h1v-3zM547 248v3h1v-3zM547 254v3h1v-3zM547 260v3h1v-3zM547 266v3h1v-3zM547 272v3h1v-3zM547 278v3h1v-3zM547 284v3h1v-3zM547 290v3h1v-3zM547 296v3h1v-3zM547 302v3h1v-3zM547 308v3h1v-3zM547 314v3h1v-3zM547 320v3h1v-3zM547 326v3h1v-3zM547 332v3h1v-3zM547 338v3h1v-3zM547 344v3h1v-3zM547 350v3h1v-3zM547 356v3h1v-3zM547 362v3h1v-3zM547 368v3h1v-3zM547 374v3h1v-3zM547 380v3h1v-3zM547 386v3h1v-3zM547 392v3h1v-3zM547 398v3h1v-3zM547 404v3h1v-3zM547 410v3h1v-3zM547 416v3h1v-3zM547 422v3h1v-3zM547 428v3h1v-3zM547 434v3h1v-3zM547 440v3h1v-3zM547 446v3h1v-3zM547 452v3h1v-3zM547 458v3h1v-3zM547 464v3h1v-3zM547 470v3h1v-3zM547 476v3h1v-3zM547 482v3h1v-3zM547 488v3h1v-3zM547 494v3h1v-3zM547 500v3h1v-3zM547 506v3h1v-3zM547 512v3h1v-3zM547 518v3h1v-3zM547 524v3h1v-3zM547 530v3h1v-3zM547 536v3h1v-3zM547 542v3h1v-3zM547 548v3h1v-3zM547 554v3h1v-3zM547 560v3h1v-3zM547 566v3h1v-3zM547 572v3h1v-3zM547 578v3h1v-3zM579 3v2h1v-2zM579 8v3h1v-3zM579 14v3h1v-3zM579 20v3h1v-3zM579 26v3h1v-3zM579 32v3h1v-3zM579 38v3h1v-3zM579 44v3h1v-3zM579 50v3h1v-3zM579 56v3h1v-3zM579 62v3h1v-3zM579 68v3h1v-3zM579 74v3h1v-3zM579 80v3h1v-3zM579 86v3h1v-3zM579 92v3h1v-3zM579 98v3h1v-3zM579 104v3h1v-3zM579 110v3h1v-3zM579 116v3h1v-3zM579 122v3h1v-3zM579 128v3h1v-3zM579 134v3h1v-3zM579 140v3h1v-3zM579 146v3h1v-3zM579 152v3h1v-3zM579 158v3h1v-3zM579 164v3h1v-3zM579 170v3h1v-3zM579 176v3h1v-3zM579 182v3h1v-3zM579 188v3h1v-3zM579 194v3h1v-3zM579 200v3h1v-3zM579 206v3h1v-3zM579 212v3h1v-3zM579 218v3h1v-3zM579 224v3h1v-3zM579 230v3h1v-3zM579 236v3h1v-3zM579 242v3h1v-3zM579 248v3h1v-3zM579 254v3h1v-3zM579 260v3h1v-3zM579 266v3h1v-3zM579 272v3h1v-3zM579 278v3h1v-3zM579 284v3h1v-3zM579 290v3h1v-3zM579 296v3h1v-3zM579 302v3h1v-3zM579 308v3h1v-3zM579 314v3h1v-3zM579 320v3h1v-3zM579 326v3h1v-3zM579 332v3h1v-3zM579 338v3h1v-3zM579 344v3h1v-3zM579 350v3h1v-3zM579 356v3h1v-3zM579 362v3h1v-3zM579 368v3h1v-3zM579 374v3h1v-3zM579 380v3h1v-3zM579 386v3h1v-3zM579 392v3h1v-3zM579 398v3h1v-3zM579 404v3h1v-3zM579 410v3h1v-3zM579 416v3h1v-3zM579 422v3h1v-3zM579 428v3h1v-3zM579 434v3h1v-3zM579 440v3h1v-3zM579 446v3h1v-3zM579 452v3h1v-3zM579 458v3h1v-3zM579 464v3h1v-3zM579 470v3h1v-3zM579 476v3h1v-3zM579 482v3h1v-3zM579 488v3h1v-3zM579 494v3h1v-3zM579 500v3h1v-3zM579 506v3h1v-3zM579 512v3h1v-3zM579 518v3h1v-3zM579 524v3h1v-3zM579 530v3h1v-3zM579 536v3h1v-3zM579 542v3h1v-3zM579 548v3h1v-3zM579 554v3h1v-3zM579 560v3h1v-3zM579 566v3h1v-3zM579 572v3h1v-3zM579 578v3h1v-3zM611 3v2h1v-2zM611 8v3h1v-3zM611 14v3h1v-3zM611 20v3h1v-3zM611 26v3h1v-3zM611 32v3h1v-3zM611 38v3h1v-3zM611 44v3h1v-3zM611 50v3h1v-3zM611 56v3h1v-3zM611 62v3h1v-3zM611 68v3h1v-3zM611 74v3h1v-3zM611 80v3h1v-3zM611 86v3h1v-3zM611 92v3h1v-3zM611 98v3h1v-3zM611 104v3h1v-3zM611 110v3h1v-3zM611 116v3h1v-3zM611 122v3h1v-3zM611 128v3h1v-3zM611 134v3h1v-3zM611 140v3h1v-3zM611 146v3h1v-3zM611 152v3h1v-3zM611 158v3h1v-3zM611 164v3h1v-3zM611 170v3h1v-3zM611 176v3h1v-3zM611 182v3h1v-3zM611 188v3h1v-3zM611 194v3h1v-3zM611 200v3h1v-3zM611 206v3h1v-3zM611 212v3h1v-3zM611 218v3h1v-3zM611 224v3h1v-3zM611 230v3h1v-3zM611 236v3h1v-3zM611 242v3h1v-3zM611 248v3h1v-3zM611 254v3h1v-3zM611 260v3h1v-3zM611 266v3h1v-3zM611 272v3h1v-3zM611 278v3h1v-3zM611 284v3h1v-3zM611 290v3h1v-3zM611 296v3h1v-3zM611 302v3h1v-3zM611 308v3h1v-3zM611 314v3h1v-3zM611 320v3h1v-3zM611 326v3h1v-3zM611 332v3h1v-3zM611 338v3h1v-3zM611 344v3h1v-3zM611 350v3h1v-3zM611 356v3h1v-3zM611 362v3h1v-3zM611 368v3h1v-3zM611 374v3h1v-3zM611 380v3h1v-3zM611 386v3h1v-3zM611 392v3h1v-3zM611 398v3h1v-3zM611 404v3h1v-3zM611 410v3h1v-3zM611 416v3h1v-3zM611 422v3h1v-3zM611 428v3h1v-3zM611 434v3h1v-3zM611 440v3h1v-3zM611 446v3h1v-3zM611 452v3h1v-3zM611 458v3h1v-3zM611 464v3h1v-3zM611 470v3h1v-3zM611 476v3h1v-3zM611 482v3h1v-3zM611 488v3h1v-3zM611 494v3h1v-3zM611 500v3h1v-3zM611 506v3h1v-3zM611 512v3h1v-3zM611 518v3h1v-3zM611 524v3h1v-3zM611 530v3h1v-3zM611 536v3h1v-3zM611 542v3h1v-3zM611 548v3h1v-3zM611 554v3h1v-3zM611 560v3h1v-3zM611 566v3h1v-3zM611 572v3h1v-3zM611 578v3h1v-3zM643 3v2h1v-2zM643 8v3h1v-3zM643 14v3h1v-3zM643 20v3h1v-3zM643 26v3h1v-3zM643 32v3h1v-3zM643 38v3h1v-3zM643 44v3h1v-3zM643 50v3h1v-3zM643 56v3h1v-3zM643 62v3h1v-3zM643 68v3h1v-3zM643 74v3h1v-3zM643 80v3h1v-3zM643 86v3h1v-3zM643 92v3h1v-3zM643 98v3h1v-3zM643 104v3h1v-3zM643 110v3h1v-3zM643 116v3h1v-3zM643 122v3h1v-3zM643 128v3h1v-3zM643 134v3h1v-3zM643 140v3h1v-3zM643 146v3h1v-3zM643 152v3h1v-3zM643 158v3h1v-3zM643 164v3h1v-3zM643 170v3h1v-3zM643 176v3h1v-3zM643 182v3h1v-3zM643 188v3h1v-3zM643 194v3h1v-3zM643 200v3h1v-3zM643 206v3h1v-3zM643 212v3h1v-3zM643 218v3h1v-3zM643 224v3h1v-3zM643 230v3h1v-3zM643 236v3h1v-3zM643 242v3h1v-3zM643 248v3h1v-3zM643 254v3h1v-3zM643 260v3h1v-3zM643 266v3h1v-3zM643 272v3h1v-3zM643 278v3h1v-3zM643 284v3h1v-3zM643 290v3h1v-3zM643 296v3h1v-3zM643 302v3h1v-3zM643 308v3h1v-3zM643 314v3h1v-3zM643 320v3h1v-3zM643 326v3h1v-3zM643 332v3h1v-3zM643 338v3h1v-3zM643 344v3h1v-3zM643 350v3h1v-3zM643 356v3h1v-3zM643 362v3h1v-3zM643 368v3h1v-3zM643 374v3h1v-3zM643 380v3h1v-3zM643 386v3h1v-3zM643 392v3h1v-3zM643 398v3h1v-3zM643 404v3h1v-3zM643 410v3h1v-3zM643 416v3h1v-3zM643 422v3h1v-3zM643 428v3h1v-3zM643 434v3h1v-3zM643 440v3h1v-3zM643 446v3h1v-3zM643 452v3h1v-3zM643 458v3h1v-3zM643 464v3h1v-3zM643 470v3h1v-3zM643 476v3h1v-3zM643 482v3h1v-3zM643 488v3h1v-3zM643 494v3h1v-3zM643 500v3h1v-3zM643 506v3h1v-3zM643 512v3h1v-3zM643 518v3h1v-3zM643 524v3h1v-3zM643 530v3h1v-3zM643 536v3h1v-3zM643 542v3h1v-3zM643 548v3h1v-3zM643 554v3h1v-3zM643 560v3h1v-3zM643 566v3h1v-3zM643 572v3h1v-3zM643 578v3h1v-3zM675 3v2h1v-2zM675 8v3h1v-3zM675 14v3h1v-3zM675 20v3h1v-3zM675 26v3h1v-3zM675 32v3h1v-3zM675 38v3h1v-3zM675 44v3h1v-3zM675 50v3h1v-3zM675 56v3h1v-3zM675 62v3h1v-3zM675 68v3h1v-3zM675 74v3h1v-3zM675 80v3h1v-3zM675 86v3h1v-3zM675 92v3h1v-3zM675 98v3h1v-3zM675 104v3h1v-3zM675 110v3h1v-3zM675 116v3h1v-3zM675 122v3h1v-3zM675 128v3h1v-3zM675 134v3h1v-3zM675 140v3h1v-3zM675 146v3h1v-3zM675 152v3h1v-3zM675 158v3h1v-3zM675 164v3h1v-3zM675 170v3h1v-3zM675 176v3h1v-3zM675 182v3h1v-3zM675 188v3h1v-3zM675 194v3h1v-3zM675 200v3h1v-3zM675 206v3h1v-3zM675 212v3h1v-3zM675 218v3h1v-3zM675 224v3h1v-3zM675 230v3h1v-3zM675 236v3h1v-3zM675 242v3h1v-3zM675 248v3h1v-3zM675 254v3h1v-3zM675 260v3h1v-3zM675 266v3h1v-3zM675 272v3h1v-3zM675 278v3h1v-3zM675 284v3h1v-3zM675 290v3h1v-3zM675 296v3h1v-3zM675 302v3h1v-3zM675 308v3h1v-3zM675 314v3h1v-3zM675 320v3h1v-3zM675 326v3h1v-3zM675 332v3h1v-3zM675 338v3h1v-3zM675 344v3h1v-3zM675 350v3h1v-3zM675 356v3h1v-3zM675 362v3h1v-3zM675 368v3h1v-3zM675 374v3h1v-3zM675 380v3h1v-3zM675 386v3h1v-3zM675 392v3h1v-3zM675 398v3h1v-3zM675 404v3h1v-3zM675 410v3h1v-3zM675 416v3h1v-3zM675 422v3h1v-3zM675 428v3h1v-3zM675 434v3h1v-3zM675 440v3h1v-3zM675 446v3h1v-3zM675 452v3h1v-3zM675 458v3h1v-3zM675 464v3h1v-3zM675 470v3h1v-3zM675 476v3h1v-3zM675 482v3h1v-3zM675 488v3h1v-3zM675 494v3h1v-3zM675 500v3h1v-3zM675 506v3h1v-3zM675 512v3h1v-3zM675 518v3h1v-3zM675 524v3h1v-3zM675 530v3h1v-3zM675 536v3h1v-3zM675 542v3h1v-3zM675 548v3h1v-3zM675 554v3h1v-3zM675 560v3h1v-3zM675 566v3h1v-3zM675 572v3h1v-3zM675 578v3h1v-3zM707 3v2h1v-2zM707 8v3h1v-3zM707 14v3h1v-3zM707 20v3h1v-3zM707 26v3h1v-3zM707 32v3h1v-3zM707 38v3h1v-3zM707 44v3h1v-3zM707 50v3h1v-3zM707 56v3h1v-3zM707 62v3h1v-3zM707 68v3h1v-3zM707 74v3h1v-3zM707 80v3h1v-3zM707 86v3h1v-3zM707 92v3h1v-3zM707 98v3h1v-3zM707 104v3h1v-3zM707 110v3h1v-3zM707 116v3h1v-3zM707 122v3h1v-3zM707 128v3h1v-3zM707 134v3h1v-3zM707 140v3h1v-3zM707 146v3h1v-3zM707 152v3h1v-3zM707 158v3h1v-3zM707 164v3h1v-3zM707 170v3h1v-3zM707 176v3h1v-3zM707 182v3h1v-3zM707 188v3h1v-3zM707 194v3h1v-3zM707 200v3h1v-3zM707 206v3h1v-3zM707 212v3h1v-3zM707 218v3h1v-3zM707 224v3h1v-3zM707 230v3h1v-3zM707 236v3h1v-3zM707 242v3h1v-3zM707 248v3h1v-3zM707 254v3h1v-3zM707 260v3h1v-3zM707 266v3h1v-3zM707 272v3h1v-3zM707 278v3h1v-3zM707 284v3h1v-3zM707 290v3h1v-3zM707 296v3h1v-3zM707 302v3h1v-3zM707 308v3h1v-3zM707 314v3h1v-3zM707 320v3h1v-3zM707 326v3h1v-3zM707 332v3h1v-3zM707 338v3h1v-3zM707 344v3h1v-3zM707 350v3h1v-3zM707 356v3h1v-3zM707 362v3h1v-3zM707 368v3h1v-3zM707 374v3h1v-3zM707 380v3h1v-3zM707 386v3h1v-3zM707 392v3h1v-3zM707 398v3h1v-3zM707 404v3h1v-3zM707 410v3h1v-3zM707 416v3h1v-3zM707 422v3h1v-3zM707 428v3h1v-3zM707 434v3h1v-3zM707 440v3h1v-3zM707 446v3h1v-3zM707 452v3h1v-3zM707 458v3h1v-3zM707 464v3h1v-3zM707 470v3h1v-3zM707 476v3h1v-3zM707 482v3h1v-3zM707 488v3h1v-3zM707 494v3h1v-3zM707 500v3h1v-3zM707 506v3h1v-3zM707 512v3h1v-3zM707 518v3h1v-3zM707 524v3h1v-3zM707 530v3h1v-3zM707 536v3h1v-3zM707 542v3h1v-3zM707 548v3h1v-3zM707 554v3h1v-3zM707 560v3h1v-3zM707 566v3h1v-3zM707 572v3h1v-3zM707 578v3h1v-3zM739 3v2h1v-2zM739 8v3h1v-3zM739 14v3h1v-3zM739 20v3h1v-3zM739 26v3h1v-3zM739 32v3h1v-3zM739 38v3h1v-3zM739 44v3h1v-3zM739 50v3h1v-3zM739 56v3h1v-3zM739 62v3h1v-3zM739 68v3h1v-3zM739 74v3h1v-3zM739 80v3h1v-3zM739 86v3h1v-3zM739 92v3h1v-3zM739 98v3h1v-3zM739 104v3h1v-3zM739 110v3h1v-3zM739 116v3h1v-3zM739 122v3h1v-3zM739 128v3h1v-3zM739 134v3h1v-3zM739 140v3h1v-3zM739 146v3h1v-3zM739 152v3h1v-3zM739 158v3h1v-3zM739 164v3h1v-3zM739 170v3h1v-3zM739 176v3h1v-3zM739 182v3h1v-3zM739 188v3h1v-3zM739 194v3h1v-3zM739 200v3h1v-3zM739 206v3h1v-3zM739 212v3h1v-3zM739 218v3h1v-3zM739 224v3h1v-3zM739 230v3h1v-3zM739 236v3h1v-3zM739 242v3h1v-3zM739 248v3h1v-3zM739 254v3h1v-3zM739 260v3h1v-3zM739 266v3h1v-3zM739 272v3h1v-3zM739 278v3h1v-3zM739 284v3h1v-3zM739 290v3h1v-3zM739 296v3h1v-3zM739 302v3h1v-3zM739 308v3h1v-3zM739 314v3h1v-3zM739 320v3h1v-3zM739 326v3h1v-3zM739 332v3h1v-3zM739 338v3h1v-3zM739 344v3h1v-3zM739 350v3h1v-3zM739 356v3h1v-3zM739 362v3h1v-3zM739 368v3h1v-3zM739 374v3h1v-3zM739 380v3h1v-3zM739 386v3h1v-3zM739 392v3h1v-3zM739 398v3h1v-3zM739 404v3h1v-3zM739 410v3h1v-3zM739 416v3h1v-3zM739 422v3h1v-3zM739 428v3h1v-3zM739 434v3h1v-3zM739 440v3h1v-3zM739 446v3h1v-3zM739 452v3h1v-3zM739 458v3h1v-3zM739 464v3h1v-3zM739 470v3h1v-3zM739 476v3h1v-3zM739 482v3h1v-3zM739 488v3h1v-3zM739 494v3h1v-3zM739 500v3h1v-3zM739 506v3h1v-3zM739 512v3h1v-3zM739 518v3h1v-3zM739 524v3h1v-3zM739 530v3h1v-3zM739 536v3h1v-3zM739 542v3h1v-3zM739 548v3h1v-3zM739 554v3h1v-3zM739 560v3h1v-3zM739 566v3h1v-3zM739 572v3h1v-3zM739 578v3h1v-3z"/>
</g>
<rect x="3" y="217" width="757" height="1" fill="#c0c0c0" shape-rendering="crispEdges"/>
<g shape-rendering="crispEdges">
<path d="M3 193h1v20h-1zM3 205h3v3h-3zM11 195h1v17h-1zM9 204h5v3h-5zM19 197h1v14h-1zM17 200h5v5h-5zM27 171h1v30h-1zM25 174h5v25h-5zM35 162h1v21h-1zM33 164h5v12h-5zM43 159h1v34h-1zM41 165h5v12h-5zM51 147h1v36h-1zM49 164h5v13h-5zM59 159h1v21h-1zM57 163h5v16h-5zM67 175h1v31h-1zM65 175h5v10h-5zM75 162h1v16h-1zM73 163h5v13h-5zM83 153h1v24h-1zM81 162h5v8h-5zM91 166h1v24h-1zM89 168h5v15h-5zM99 160h1v24h-1zM97 160h5v24h-5zM107 158h1v13h-1zM105 161h5v3h-5zM115 135h1v28h-1zM113 147h5v16h-5zM123 127h1v20h-1zM121 133h5v14h-5zM131 100h1v36h-1zM129 100h5v33h-5zM139 78h1v31h-1zM137 99h5v3h-5zM147 95h1v23h-1zM145 100h5v17h-5zM155 112h1v16h-1zM153 117h5v8h-5zM163 113h1v15h-1zM161 118h5v9h-5zM171 102h1v19h-1zM169 102h5v18h-5zM179 81h1v24h-1zM177 88h5v14h-5zM187 79h1v31h-1zM185 87h5v2h-5zM195 54h1v40h-1zM193 65h5v23h-5zM203 55h1v11h-1zM201 62h5v3h-5zM211 42h1v21h-1zM209 62h5v1h-5zM219 56h1v16h-1zM217 61h5v2h-5zM227 52h1v17h-1zM225 62h5v4h-5zM235 62h1v32h-1zM233 65h5v22h-5zM243 84h1v19h-1zM241 86h5v2h-5zM251 59h1v27h-1zM249 65h5v21h-5zM259 23h1v33h-1zM257 33h5v21h-5zM267 32h1v22h-1zM265 36h5v18h-5zM275 31h1v20h-1zM273 33h5v3h-5zM283 31h1v28h-1zM281 32h5v22h-5zM291 32h1v29h-1zM289 40h5v15h-5zM299 40h1v38h-1zM297 40h5v35h-5zM307 63h1v38h-1zM305 72h5v14h-5zM315 80h1v64h-1zM313 84h5v47h-5zM323 114h1v40h-1zM321 124h5v7h-5zM331 113h1v39h-1zM329 124h5v16h-5zM339 137h1v38h-1zM337 138h5v16h-5zM347 142h1v18h-1zM345 152h5v2h-5zM355 138h1v46h-1zM353 152h5v26h-5zM363 168h1v30h-1zM361 178h5v13h-5zM371 171h1v34h-1zM369 189h5v5h-5zM379 185h1v43h-1zM377 192h5v27h-5zM387 182h1v39h-1zM385 193h5v27h-5zM395 190h1v15h-1zM393 193h5v9h-5zM403 186h1v52h-1zM401 202h5v36h-5zM411 209h1v31h-1zM409 219h5v19h-5zM419 201h1v26h-1zM417 218h5v4h-5zM427 204h1v23h-1zM425 221h5v1h-5zM435 219h1v31h-1zM433 223h5v2h-5zM443 223h1v30h-1zM441 223h5v18h-5zM451 237h1v23h-1zM449 239h5v6h-5zM459 241h1v16h-1zM457 244h5v10h-5zM467 250h1v19h-1zM465 254h5v6h-5zM475 204h1v62h-1zM473 219h5v42h-5zM483 204h1v54h-1zM481 219h5v18h-5zM491 217h1v23h-1zM489 230h5v8h-5zM499 211h1v28h-1zM497 215h5v23h-5zM507 216h1v36h-1zM505 216h5v34h-5zM515 239h1v49h-1zM513 247h5v36h-5zM523 256h1v32h-1zM521 275h5v9h-5zM531 221h1v64h-1zM529 221h5v56h-5zM539 221h1v31h-1zM537 221h5v29h-5zM547 238h1v70h-1zM545 248h5v54h-5zM555 302h1v35h-1zM553 302h5v20h-5zM563 313h1v22h-1zM561 320h5v3h-5zM571 287h1v35h-1zM569 319h5v3h-5zM579 289h1v34h-1zM577 312h5v9h-5zM587 293h1v57h-1zM585 311h5v29h-5zM595 303h1v44h-1zM593 304h5v36h-5zM603 288h1v33h-1zM601 289h5v17h-5zM611 258h1v39h-1zM609 270h5v21h-5zM619 251h1v38h-1zM617 266h5v6h-5zM627 226h1v45h-1zM625 230h5v38h-5zM635 223h1v22h-1zM633 229h5v2h-5zM643 219h1v38h-1zM641 230h5v14h-5zM651 232h1v13h-1zM649 242h5v1h-5zM659 215h1v34h-1zM657 230h5v14h-5zM667 182h1v49h-1zM665 210h5v21h-5zM675 184h1v33h-1zM673 203h5v7h-5zM683 200h1v35h-1zM681 202h5v6h-5zM691 204h1v31h-1zM689 206h5v23h-5zM699 215h1v18h-1zM697 218h5v10h-5zM707 210h1v10h-1zM705 217h5v1h-5z" fill="#000"/>
<path d="M10 205h3v1h-3zM18 201h3v3h-3zM26 175h3v23h-3zM34 165h3v10h-3zM50 165h3v11h-3zM66 176h3v8h-3zM74 164h3v11h-3zM98 161h3v22h-3zM114 148h3v14h-3zM122 134h3v12h-3zM130 101h3v31h-3zM138 100h3v1h-3zM162 119h3v7h-3zM170 103h3v16h-3zM178 89h3v12h-3zM194 66h3v21h-3zM202 63h3v1h-3zM250 66h3v19h-3zM266 37h3v16h-3zM274 34h3v1h-3zM290 41h3v13h-3zM322 125h3v5h-3zM386 194h3v25h-3zM410 220h3v17h-3zM474 220h3v40h-3zM490 231h3v6h-3zM498 216h3v21h-3zM522 276h3v7h-3zM530 222h3v54h-3zM570 320h3v1h-3zM578 313h3v7h-3zM594 305h3v34h-3zM602 290h3v15h-3zM610 271h3v19h-3zM618 267h3v4h-3zM626 231h3v36h-3zM658 231h3v12h-3zM666 211h3v19h-3zM674 204h3v5h-3zM698 219h3v8h-3z" fill="#fff"/>
</g>
<path d="M3 198h3v1h-3zM6 197h4v1h-4zM10 196h7v1h-7zM17 195h5v1h-5zM22 194h3v1h-3zM25 193h2v1h-2zM27 192h2v1h-2zM29 191h1v1h-1zM30 190h2v1h-2zM32 189h1v1h-1zM33 188h1v1h-1zM34 187h2v1h-2zM36 186h1v1h-1zM37 185h1v1h-1zM38 184h1v1h-1zM39 183h2v1h-2zM41 182h1v1h-1zM42 181h1v1h-1zM43 180h1v1h-1zM44 179h1v1h-1zM45 178h1v1h-1zM46 177h1v1h-1zM47 176h1v1h-1zM48 175h1v1h-1zM49 174h1v1h-1zM50 173h1v1h-1zM51 172h1v1h-1zM52 171h1v1h-1zM53 170h2v1h-2zM55 169h2v1h-2zM57 168h1v1h-1zM58 167h2v1h-2zM60 166h2v1h-2zM62 165h3v1h-3zM65 164h2v1h-2zM67 163h3v1h-3zM70 162h3v1h-3zM73 161h2v1h-2zM75 160h2v1h-2zM77 159h2v1h-2zM79 158h2v1h-2zM81 157h1v1h-1zM82 156h2v1h-2zM84 155h2v1h-2zM86 154h2v1h-2zM88 153h2v1h-2zM90 152h2v1h-2zM92 151h2v1h-2zM94 150h2v1h-2zM96 149h2v1h-2zM98 148h13v1h-13zM111 147h3v1h-3zM114 146h3v1h-3zM117 145h2v1h-2zM119 144h2v1h-2zM121 143h2v1h-2zM123 142h2v1h-2zM125 141h2v1h-2zM127 140h2v1h-2zM129 139h2v1h-2zM131 138h1v1h-1zM132 137h1v1h-1zM133 135h1v2h-1zM134 134h1v1h-1zM135 133h1v1h-1zM136 132h1v1h-1zM137 131h1v1h-1zM138 130h1v1h-1zM139 129h1v1h-1zM140 128h1v1h-1zM141 127h1v1h-1zM142 126h1v1h-1zM143 125h1v1h-1zM144 124h1v1h-1zM145 123h1v1h-1zM146 122h1v1h-1zM147 121h2v1h-2zM149 120h1v1h-1zM150 119h2v1h-2zM152 118h2v1h-2zM154 117h2v1h-2zM156 116h3v1h-3zM159 115h2v1h-2zM161 114h2v1h-2zM163 113h2v1h-2zM165 112h1v1h-1zM166 111h2v1h-2zM168 110h1v1h-1zM169 109h1v1h-1zM170 108h1v1h-1zM171 107h1v1h-1zM172 106h1v1h-1zM173 105h1v1h-1zM174 104h1v1h-1zM175 103h1v1h-1zM176 102h1v1h-1zM177 101h1v1h-1zM178 100h1v1h-1zM179 99h1v1h-1zM180 98h1v1h-1zM181 97h1v1h-1zM182 96h1v1h-1zM183 95h1v1h-1zM184 94h1v1h-1zM185 93h1v1h-1zM186 91h1v2h-1zM187 90h1v1h-1zM188 89h1v1h-1zM189 88h1v1h-1zM190 87h1v1h-1zM191 86h1v1h-1zM192 84h1v2h-1zM193 83h1v1h-1zM194 82h1v1h-1zM195 81h1v1h-1zM196 80h1v1h-1zM197 79h1v1h-1zM198 78h1v1h-1zM199 77h1v1h-1zM200 76h1v1h-1zM201 75h2v1h-2zM203 74h2v1h-2zM205 73h2v1h-2zM207 72h2v1h-2zM209 71h4v1h-4zM213 70h4v1h-4zM217 69h2v1h-2zM219 68h3v1h-3zM222 67h2v1h-2zM224 66h2v1h-2zM226 65h1v1h-1zM227 64h2v1h-2zM229 63h1v1h-1zM230 62h1v1h-1zM231 61h2v1h-2zM233 60h1v1h-1zM234 59h2v1h-2zM236 58h3v1h-3zM239 57h2v1h-2zM241 56h2v1h-2zM243 55h2v1h-2zM245 54h2v1h-2zM247 53h2v1h-2zM249 52h2v1h-2zM251 51h1v1h-1zM252 50h2v1h-2zM254 49h1v1h-1zM255 48h1v1h-1zM256 47h1v1h-1zM257 46h2v1h-2zM259 45h1v1h-1zM260 44h1v1h-1zM261 43h2v1h-2zM263 42h2v1h-2zM265 41h3v1h-3zM268 40h4v1h-4zM272 39h2v1h-2zM274 38h3v1h-3zM277 37h2v1h-2zM279 36h4v1h-4zM283 35h5v1h-5zM288 34h5v1h-5zM293 33h5v1h-5zM298 32h15v1h-15zM313 33h5v1h-5zM318 34h4v1h-4zM322 35h2v1h-2zM324 36h2v1h-2zM326 37h1v1h-1zM327 38h2v1h-2zM329 39h1v1h-1zM330 40h2v1h-2zM332 41h1v1h-1zM333 42h1v2h-1zM334 44h1v1h-1zM335 45h1v1h-1zM336 46h1v2h-1zM337 48h1v1h-1zM338 49h1v1h-1zM339 50h1v2h-1zM340 52h1v1h-1zM341 53h1v2h-1zM342 55h1v1h-1zM343 56h1v1h-1zM344 57h1v2h-1zM345 59h1v1h-1zM346 60h1v1h-1zM347 61h1v2h-1zM348 63h1v1h-1zM349 64h1v2h-1zM350 66h1v1h-1zM351 67h1v1h-1zM352 68h1v2h-1zM353 70h1v1h-1zM354 71h1v1h-1zM355 72h1v2h-1zM356 74h1v1h-1zM357 75h1v2h-1zM358 77h1v1h-1zM359 78h1v2h-1zM360 80h1v1h-1zM361 81h1v2h-1zM362 83h1v1h-1zM363 84h1v2h-1zM364 86h1v1h-1zM365 87h1v2h-1zM366 89h1v2h-1zM367 91h1v2h-1zM368 93h1v1h-1zM369 94h1v2h-1zM370 96h1v2h-1zM371 98h1v2h-1zM372 100h1v1h-1zM373 101h1v2h-1zM374 103h1v2h-1zM375 105h1v2h-1zM376 107h1v1h-1zM377 108h1v2h-1zM378 110h1v2h-1zM379 112h1v2h-1zM380 114h1v1h-1zM381 115h1v2h-1zM382 117h1v2h-1zM383 119h1v2h-1zM384 121h1v1h-1zM385 122h1v2h-1zM386 124h1v2h-1zM387 126h1v2h-1zM388 128h1v1h-1zM389 129h1v2h-1zM390 131h1v1h-1zM391 132h1v1h-1zM392 133h1v2h-1zM393 135h1v1h-1zM394 136h1v1h-1zM395 137h1v2h-1zM396 139h1v1h-1zM397 140h1v1h-1zM398 141h1v2h-1zM399 143h1v1h-1zM400 144h1v1h-1zM401 145h1v1h-1zM402 146h1v1h-1zM403 147h1v1h-1zM404 148h1v1h-1zM405 149h1v1h-1zM406 150h1v1h-1zM407 151h1v1h-1zM408 152h1v1h-1zM409 153h1v1h-1zM410 154h1v1h-1zM411 155h1v1h-1zM412 156h1v1h-1zM413 157h1v1h-1zM414 158h1v1h-1zM415 159h2v1h-2zM417 160h1v1h-1zM418 161h1v1h-1zM419 162h1v1h-1zM420 163h1v1h-1zM421 164h1v1h-1zM422 165h1v1h-1zM423 166h2v1h-2zM425 167h1v1h-1zM426 168h1v1h-1zM427 169h1v1h-1zM428 170h1v1h-1zM429 171h1v1h-1zM430 172h1v1h-1zM431 173h1v1h-1zM432 174h1v1h-1zM433 175h1v1h-1zM434 176h1v1h-1zM435 177h1v1h-1zM436 178h2v1h-2zM438 179h2v1h-2zM440 180h2v1h-2zM442 181h2v1h-2zM444 182h1v1h-1zM445 183h1v1h-1zM446 184h1v1h-1zM447 185h2v1h-2zM449 186h1v1h-1zM450 187h1v1h-1zM451 188h1v1h-1zM452 189h1v1h-1zM453 190h1v1h-1zM454 191h1v1h-1zM455 192h2v1h-2zM457 193h1v1h-1zM458 194h1v1h-1zM459 195h1v1h-1zM460 196h1v1h-1zM461 197h1v1h-1zM462 198h1v1h-1zM463 199h1v1h-1zM464 200h1v1h-1zM465 201h1v1h-1zM466 202h1v1h-1zM467 203h1v1h-1zM468 204h5v1h-5zM473 203h8v1h-8zM481 204h6v1h-6zM487 205h4v1h-4zM491 206h14v1h-14zM505 207h6v1h-6zM511 208h4v1h-4zM515 209h3v1h-3zM518 210h2v1h-2zM520 211h2v1h-2zM522 212h2v1h-2zM524 211h2v1h-2zM526 210h2v1h-2zM528 209h2v1h-2zM530 208h2v1h-2zM532 207h3v1h-3zM535 206h4v1h-4zM539 205h3v1h-3zM542 204h3v1h-3zM545 203h2v1h-2zM547 202h2v1h-2zM549 203h1v2h-1zM550 205h1v2h-1zM551 207h1v1h-1zM552 208h1v2h-1zM553 210h1v2h-1zM554 212h1v1h-1zM555 213h1v2h-1zM556 215h1v1h-1zM557 216h1v2h-1zM558 218h1v1h-1zM559 219h1v2h-1zM560 221h1v1h-1zM561 222h1v1h-1zM562 223h1v1h-1zM563 224h1v1h-1zM564 225h1v2h-1zM565 227h1v1h-1zM566 228h1v1h-1zM567 229h1v1h-1zM568 230h1v1h-1zM569 231h1v1h-1zM570 232h1v1h-1zM571 233h1v1h-1zM572 234h1v1h-1zM573 235h1v1h-1zM574 236h1v1h-1zM575 237h1v1h-1zM576 238h1v1h-1zM577 239h1v1h-1zM578 240h1v1h-1zM579 241h1v1h-1zM580 242h1v1h-1zM581 243h2v1h-2zM583 244h1v1h-1zM584 245h1v1h-1zM585 246h1v1h-1zM586 247h1v1h-1zM587 248h2v1h-2zM589 249h1v1h-1zM590 250h1v1h-1zM591 251h2v1h-2zM593 252h1v1h-1zM594 253h4v1h-4zM598 254h4v1h-4zM602 255h2v1h-2zM604 256h1v1h-1zM605 257h1v1h-1zM606 258h2v1h-2zM608 259h2v1h-2zM610 260h3v1h-3zM613 261h2v1h-2zM615 262h5v1h-5zM620 263h4v1h-4zM624 262h2v1h-2zM626 261h2v1h-2zM628 260h1v1h-1zM629 259h2v1h-2zM631 258h1v1h-1zM632 257h1v1h-1zM633 256h1v1h-1zM634 255h1v1h-1zM635 254h1v1h-1zM636 252h1v2h-1zM637 251h1v1h-1zM638 250h1v1h-1zM639 249h1v1h-1zM640 248h1v1h-1zM641 247h1v1h-1zM642 246h1v1h-1zM643 245h1v1h-1zM644 244h1v1h-1zM645 243h1v1h-1zM646 242h1v1h-1zM647 241h1v1h-1zM648 240h1v1h-1zM649 239h2v1h-2zM651 238h1v1h-1zM652 237h1v1h-1zM653 236h2v1h-2zM655 235h1v1h-1zM656 234h1v1h-1zM657 233h1v1h-1zM658 231h1v2h-1zM659 230h1v1h-1zM660 229h1v1h-1zM661 228h1v1h-1zM662 226h1v2h-1zM663 225h1v1h-1zM664 224h1v1h-1zM665 223h1v1h-1zM666 221h1v2h-1zM667 220h1v1h-1zM668 219h1v1h-1zM669 218h1v1h-1zM670 216h1v2h-1zM671 215h1v1h-1zM672 214h1v1h-1zM673 213h1v1h-1zM674 211h1v2h-1zM675 210h1v1h-1zM676 209h1v1h-1zM677 208h1v1h-1zM678 206h1v2h-1zM679 205h1v1h-1zM680 204h1v1h-1zM681 203h2v1h-2zM683 202h1v1h-1zM684 201h2v1h-2zM686 200h1v1h-1zM687 199h1v1h-1zM688 198h2v1h-2zM690 197h2v1h-2zM692 196h3v1h-3zM695 195h4v1h-4zM699 194h4v1h-4zM703 195h3v1h-3zM706 196h2v1h-2z" fill="#8b0000" shape-rendering="crispEdges"/>
<path d="M3 220h3v1h-3zM6 219h4v1h-4zM10 218h5v1h-5zM15 217h4v1h-4zM19 216h3v1h-3zM22 215h2v1h-2zM24 214h2v1h-2zM26 213h2v1h-2zM28 212h1v1h-1zM29 211h2v1h-2zM31 210h1v1h-1zM32 209h1v1h-1zM33 208h2v1h-2zM35 207h1v1h-1zM36 206h1v1h-1zM37 205h2v1h-2zM39 204h1v1h-1zM40 203h1v1h-1zM41 202h2v1h-2zM43 201h1v1h-1zM44 200h1v1h-1zM45 199h2v1h-2zM47 198h2v1h-2zM49 197h1v1h-1zM50 196h2v1h-2zM52 195h1v1h-1zM53 194h2v1h-2zM55 193h2v1h-2zM57 192h1v1h-1zM58 191h2v1h-2zM60 190h2v1h-2zM62 189h3v1h-3zM65 188h2v1h-2zM67 187h3v1h-3zM70 186h2v1h-2zM72 185h2v1h-2zM74 184h2v1h-2zM76 183h2v1h-2zM78 182h2v1h-2zM80 181h2v1h-2zM82 180h2v1h-2zM84 179h2v1h-2zM86 178h3v1h-3zM89 177h2v1h-2zM91 176h3v1h-3zM94 175h3v1h-3zM97 174h2v1h-2zM99 173h4v1h-4zM103 172h4v1h-4zM107 171h3v1h-3zM110 170h3v1h-3zM113 169h2v1h-2zM115 168h3v1h-3zM118 167h2v1h-2zM120 166h2v1h-2zM122 165h2v1h-2zM124 164h2v1h-2zM126 163h2v1h-2zM128 162h2v1h-2zM130 161h2v1h-2zM132 160h1v1h-1zM133 159h1v1h-1zM134 158h1v1h-1zM135 157h1v1h-1zM136 156h1v1h-1zM137 155h1v1h-1zM138 154h1v1h-1zM139 153h1v1h-1zM140 152h1v1h-1zM141 151h1v1h-1zM142 150h2v1h-2zM144 149h1v1h-1zM145 148h1v1h-1zM146 147h1v1h-1zM147 146h1v1h-1zM148 145h1v1h-1zM149 144h1v1h-1zM150 143h2v1h-2zM152 142h2v1h-2zM154 141h1v1h-1zM155 140h2v1h-2zM157 139h1v1h-1zM158 138h2v1h-2zM160 137h2v1h-2zM162 136h1v1h-1zM163 135h2v1h-2zM165 134h1v1h-1zM166 133h2v1h-2zM168 132h1v1h-1zM169 131h1v1h-1zM170 130h1v1h-1zM171 129h1v1h-1zM172 128h1v1h-1zM173 127h1v1h-1zM174 126h1v1h-1zM175 125h1v1h-1zM176 124h1v1h-1zM177 123h1v1h-1zM178 122h1v1h-1zM179 121h1v1h-1zM180 120h1v1h-1zM181 119h1v1h-1zM182 118h1v1h-1zM183 117h2v1h-2zM185 116h1v1h-1zM186 115h1v1h-1zM187 114h1v1h-1zM188 113h1v1h-1zM189 112h1v1h-1zM190 111h1v1h-1zM191 110h1v1h-1zM192 109h1v1h-1zM193 107h1v2h-1zM194 106h1v1h-1zM195 105h1v1h-1zM196 104h1v1h-1zM197 103h1v1h-1zM198 102h1v1h-1zM199 101h2v1h-2zM201 100h1v1h-1zM202 99h1v1h-1zM203 98h1v1h-1zM204 97h2v1h-2zM206 96h2v1h-2zM208 95h1v1h-1zM209 94h2v1h-2zM211 93h2v1h-2zM213 92h2v1h-2zM215 91h2v1h-2zM217 90h2v1h-2zM219 89h2v1h-2zM221 88h2v1h-2zM223 87h2v1h-2zM225 86h1v1h-1zM226 85h2v1h-2zM228 84h2v1h-2zM230 83h1v1h-1zM231 82h2v1h-2zM233 81h2v1h-2zM235 80h2v1h-2zM237 79h2v1h-2zM239 78h4v1h-4zM243 77h3v1h-3zM246 76h2v1h-2zM248 75h2v1h-2zM250 74h1v1h-1zM251 73h2v1h-2zM253 72h2v1h-2zM255 71h1v1h-1zM256 70h2v1h-2zM258 69h2v1h-2zM260 68h1v1h-1zM261 67h1v1h-1zM262 66h2v1h-2zM264 65h1v1h-1zM265 64h2v1h-2zM267 63h2v1h-2zM269 62h3v1h-3zM272 61h2v1h-2zM274 60h9v1h-9zM283 59h5v1h-5zM288 58h15v1h-15zM303 59h5v1h-5zM308 60h3v1h-3zM311 61h2v1h-2zM313 62h2v1h-2zM315 63h1v1h-1zM316 64h2v1h-2zM318 65h2v1h-2zM320 66h2v1h-2zM322 67h2v1h-2zM324 68h2v1h-2zM326 69h1v1h-1zM327 70h2v1h-2zM329 71h1v1h-1zM330 72h1v1h-1zM331 73h1v2h-1zM332 75h1v1h-1zM333 76h1v1h-1zM334 77h1v2h-1zM335 79h1v1h-1zM336 80h1v1h-1zM337 81h1v2h-1zM338 83h1v1h-1zM339 84h1v1h-1zM340 85h1v2h-1zM341 87h1v1h-1zM342 88h1v1h-1zM343 89h1v2h-1zM344 91h1v1h-1zM345 92h1v2h-1zM346 94h1v1h-1zM347 95h1v2h-1zM348 97h1v1h-1zM349 98h1v2h-1zM350 100h1v1h-1zM351 101h1v2h-1zM352 103h1v1h-1zM353 104h1v2h-1zM354 106h1v2h-1zM355 108h1v2h-1zM356 110h1v1h-1zM357 111h1v2h-1zM358 113h1v2h-1zM359 115h1v2h-1zM360 117h1v1h-1zM361 118h1v2h-1zM362 120h1v2h-1zM363 122h1v2h-1zM364 124h1v2h-1zM365 126h1v2h-1zM366 128h1v2h-1zM367 130h1v2h-1zM368 132h1v2h-1zM369 134h1v2h-1zM370 136h1v2h-1zM371 138h1v2h-1zM372 140h1v1h-1zM373 141h1v2h-1zM374 143h1v2h-1zM375 145h1v2h-1zM376 147h1v1h-1zM377 148h1v2h-1zM378 150h1v2h-1zM379 152h1v2h-1zM380 154h1v1h-1zM381 155h1v2h-1zM382 157h1v1h-1zM383 158h1v2h-1zM384 160h1v1h-1zM385 161h1v2h-1zM386 163h1v1h-1zM387 164h1v2h-1zM388 166h1v1h-1zM389 167h1v1h-1zM390 168h1v1h-1zM391 169h1v1h-1zM392 170h1v2h-1zM393 172h1v1h-1zM394 173h1v1h-1zM395 174h1v1h-1zM396 175h1v1h-1zM397 176h1v1h-1zM398 177h1v1h-1zM399 178h1v1h-1zM400 179h1v1h-1zM401 180h1v1h-1zM402 181h1v1h-1zM403 182h2v1h-2zM405 183h1v1h-1zM406 184h1v1h-1zM407 185h1v1h-1zM408 186h1v1h-1zM409 187h1v1h-1zM410 188h1v1h-1zM411 189h1v1h-1zM412 190h1v1h-1zM413 191h1v1h-1zM414 192h1v1h-1zM415 193h1v1h-1zM416 194h1v1h-1zM417 195h2v1h-2zM419 196h1v1h-1zM420 197h1v1h-1zM421 198h2v1h-2zM423 199h1v1h-1zM424 200h1v1h-1zM425 201h2v1h-2zM427 202h1v1h-1zM428 203h1v1h-1zM429 204h2v1h-2zM431 205h1v1h-1zM432 206h1v1h-1zM433 207h2v1h-2zM435 208h1v1h-1zM436 209h1v1h-1zM437 210h2v1h-2zM439 211h1v1h-1zM440 212h1v1h-1zM441 213h2v1h-2zM443 214h1v1h-1zM444 215h1v1h-1zM445 216h2v1h-2zM447 217h1v1h-1zM448 218h1v1h-1zM449 219h2v1h-2zM451 220h2v1h-2zM453 221h1v1h-1zM454 222h2v1h-2zM456 223h1v1h-1zM457 224h2v1h-2zM459 225h2v1h-2zM461 226h1v1h-1zM462 227h2v1h-2zM464 228h2v1h-2zM466 229h2v1h-2zM468 230h2v1h-2zM470 231h2v1h-2zM472 232h3v1h-3zM475 233h4v1h-4zM479 234h4v1h-4zM483 235h4v1h-4zM487 236h14v1h-14zM501 237h5v1h-5zM506 238h3v1h-3zM509 239h2v1h-2zM511 240h3v1h-3zM514 241h2v1h-2zM516 242h2v1h-2zM518 243h2v1h-2zM520 244h2v1h-2zM522 245h2v1h-2zM524 246h3v1h-3zM527 245h4v1h-4zM531 244h6v1h-6zM537 243h5v1h-5zM542 244h3v1h-3zM545 245h2v1h-2zM547 246h2v1h-2zM549 247h1v2h-1zM550 249h1v1h-1zM551 250h1v1h-1zM552 251h1v2h-1zM553 253h1v1h-1zM554 254h1v1h-1zM555 255h1v1h-1zM556 256h1v1h-1zM557 257h1v1h-1zM558 258h1v2h-1zM559 260h1v1h-1zM560 261h1v1h-1zM561 262h1v1h-1zM562 263h1v1h-1zM563 264h1v1h-1zM564 265h1v1h-1zM565 266h1v1h-1zM566 267h1v1h-1zM567 268h1v1h-1zM568 269h1v1h-1zM569 270h1v1h-1zM570 271h1v1h-1zM571 272h1v1h-1zM572 273h1v1h-1zM573 274h1v1h-1zM574 275h1v2h-1zM575 277h1v1h-1zM576 278h1v1h-1zM577 279h1v1h-1zM578 280h1v1h-1zM579 281h1v1h-1zM580 282h1v1h-1zM581 283h1v1h-1zM582 284h1v1h-1zM583 285h1v1h-1zM584 286h1v1h-1zM585 287h1v1h-1zM586 288h1v1h-1zM587 289h2v1h-2zM589 290h2v1h-2zM591 291h1v1h-1zM592 292h2v1h-2zM594 293h2v1h-2zM596 294h2v1h-2zM598 295h2v1h-2zM600 296h2v1h-2zM602 297h2v1h-2zM604 298h3v1h-3zM607 299h2v1h-2zM609 300h3v1h-3zM612 301h2v1h-2zM614 302h2v1h-2zM616 303h2v1h-2zM618 304h2v1h-2zM620 303h2v1h-2zM622 302h2v1h-2zM624 301h2v1h-2zM626 300h2v1h-2zM628 299h1v1h-1zM629 298h1v1h-1zM630 297h1v1h-1zM631 296h1v1h-1zM632 294h1v2h-1zM633 293h1v1h-1zM634 292h1v1h-1zM635 291h1v1h-1zM636 290h1v1h-1zM637 289h1v1h-1zM638 288h1v1h-1zM639 287h1v1h-1zM640 285h1v2h-1zM641 284h1v1h-1zM642 283h1v1h-1zM643 282h1v1h-1zM644 281h1v1h-1zM645 280h1v1h-1zM646 279h1v1h-1zM647 278h2v1h-2zM649 277h1v1h-1zM650 276h1v1h-1zM651 275h1v1h-1zM652 274h1v1h-1zM653 273h1v1h-1zM654 272h1v1h-1zM655 271h1v1h-1zM656 270h1v1h-1zM657 269h1v1h-1zM658 268h1v1h-1zM659 267h1v1h-1zM660 266h1v1h-1zM661 264h1v2h-1zM662 263h1v1h-1zM663 261h1v2h-1zM664 260h1v1h-1zM665 258h1v2h-1zM666 257h1v1h-1zM667 255h1v2h-1zM668 254h1v1h-1zM669 252h1v2h-1zM670 251h1v1h-1zM671 249h1v2h-1zM672 248h1v1h-1zM673 246h1v2h-1zM674 245h1v1h-1zM675 243h1v2h-1zM676 242h1v1h-1zM677 241h1v1h-1zM678 240h1v1h-1zM679 239h1v1h-1zM680 238h1v1h-1zM681 237h1v1h-1zM682 236h1v1h-1zM683 235h1v1h-1zM684 234h1v1h-1zM685 233h2v1h-2zM687 232h2v1h-2zM689 231h1v1h-1zM690 230h2v1h-2zM692 229h2v1h-2zM694 228h3v1h-3zM697 227h2v1h-2zM699 226h2v1h-2zM701 225h2v1h-2zM703 224h2v1h-2zM705 223h2v1h-2zM707 222h1v1h-1z" fill="#8b0000" shape-rendering="crispEdges"/>
<path d="M3 241h5v1h-5zM8 240h6v1h-6zM14 239h2v1h-2zM16 238h2v1h-2zM18 237h2v1h-2zM20 236h2v1h-2zM22 235h3v1h-3zM25 234h2v1h-2zM27 233h2v1h-2zM29 232h2v1h-2zM31 231h2v1h-2zM33 230h1v1h-1zM34 229h2v1h-2zM36 228h1v1h-1zM37 227h2v1h-2zM39 226h2v1h-2zM41 225h1v1h-1zM42 224h2v1h-2zM44 223h1v1h-1zM45 222h2v1h-2zM47 221h2v1h-2zM49 220h1v1h-1zM50 219h2v1h-2zM52 218h1v1h-1zM53 217h2v1h-2zM55 216h1v1h-1zM56 215h1v1h-1zM57 214h2v1h-2zM59 213h1v1h-1zM60 212h3v1h-3zM63 211h4v1h-4zM67 210h2v1h-2zM69 209h2v1h-2zM71 208h2v1h-2zM73 207h1v1h-1zM74 206h2v1h-2zM76 205h2v1h-2zM78 204h3v1h-3zM81 203h2v1h-2zM83 202h4v1h-4zM87 201h4v1h-4zM91 200h3v1h-3zM94 199h3v1h-3zM97 198h2v1h-2zM99 197h3v1h-3zM102 196h3v1h-3zM105 195h2v1h-2zM107 194h6v1h-6zM113 193h5v1h-5zM118 192h2v1h-2zM120 191h2v1h-2zM122 190h2v1h-2zM124 189h1v1h-1zM125 188h2v1h-2zM127 187h2v1h-2zM129 186h1v1h-1zM130 185h2v1h-2zM132 184h1v1h-1zM133 183h1v1h-1zM134 182h1v1h-1zM135 181h1v1h-1zM136 180h1v1h-1zM137 179h1v1h-1zM138 178h1v1h-1zM139 177h1v1h-1zM140 176h1v1h-1zM141 175h1v1h-1zM142 174h1v1h-1zM143 173h1v1h-1zM144 171h1v2h-1zM145 170h1v1h-1zM146 169h1v1h-1zM147 168h1v1h-1zM148 167h2v1h-2zM150 166h2v1h-2zM152 165h2v1h-2zM154 164h2v1h-2zM156 163h1v1h-1zM157 162h2v1h-2zM159 161h1v1h-1zM160 160h1v1h-1zM161 159h1v1h-1zM162 158h2v1h-2zM164 157h1v1h-1zM165 156h1v1h-1zM166 155h1v1h-1zM167 154h1v1h-1zM168 153h1v1h-1zM169 152h1v1h-1zM170 151h1v1h-1zM171 150h2v1h-2zM173 149h1v1h-1zM174 148h1v1h-1zM175 147h1v1h-1zM176 146h1v1h-1zM177 145h1v1h-1zM178 144h1v1h-1zM179 143h1v1h-1zM180 142h2v1h-2zM182 141h1v1h-1zM183 140h1v1h-1zM184 139h1v1h-1zM185 138h1v1h-1zM186 137h2v1h-2zM188 136h1v1h-1zM189 135h1v1h-1zM190 134h3v1h-3zM193 133h1v1h-1zM194 132h1v1h-1zM195 131h1v1h-1zM196 130h1v1h-1zM197 129h1v1h-1zM198 128h1v1h-1zM199 127h1v1h-1zM200 126h1v1h-1zM201 125h1v1h-1zM202 124h1v1h-1zM203 123h1v1h-1zM204 122h1v1h-1zM205 121h1v1h-1zM206 120h1v1h-1zM207 119h1v1h-1zM208 118h1v1h-1zM209 117h1v1h-1zM210 116h1v1h-1zM211 115h2v1h-2zM213 114h1v1h-1zM214 113h1v1h-1zM215 112h1v1h-1zM216 111h1v1h-1zM217 110h2v1h-2zM219 109h1v1h-1zM220 108h1v1h-1zM221 107h2v1h-2zM223 106h1v1h-1zM224 105h2v1h-2zM226 104h3v1h-3zM229 103h2v1h-2zM231 102h6v1h-6zM237 101h5v1h-5zM242 100h3v1h-3zM245 99h2v1h-2zM247 98h3v1h-3zM250 97h3v1h-3zM253 96h2v1h-2zM255 95h2v1h-2zM257 94h2v1h-2zM259 93h2v1h-2zM261 92h1v1h-1zM262 91h2v1h-2zM264 90h1v1h-1zM265 89h2v1h-2zM267 88h1v1h-1zM268 87h1v1h-1zM269 86h2v1h-2zM271 85h1v1h-1zM272 84h2v1h-2zM274 83h2v1h-2zM276 82h15v1h-15zM291 83h4v1h-4zM295 84h4v1h-4zM299 85h4v1h-4zM303 86h2v1h-2zM305 87h2v1h-2zM307 88h1v1h-1zM308 89h1v1h-1zM309 90h2v1h-2zM311 91h1v1h-1zM312 92h1v1h-1zM313 93h1v1h-1zM314 94h1v1h-1zM315 95h1v1h-1zM316 96h1v1h-1zM317 97h1v1h-1zM318 98h1v1h-1zM319 99h1v1h-1zM320 100h1v1h-1zM321 101h2v1h-2zM323 102h1v1h-1zM324 103h1v1h-1zM325 104h2v1h-2zM327 105h1v1h-1zM328 106h1v1h-1zM329 107h1v1h-1zM330 108h1v2h-1zM331 110h1v1h-1zM332 111h1v1h-1zM333 112h1v1h-1zM334 113h1v2h-1zM335 115h1v1h-1zM336 116h1v1h-1zM337 117h1v2h-1zM338 119h1v1h-1zM339 120h1v1h-1zM340 121h1v2h-1zM341 123h1v1h-1zM342 124h1v1h-1zM343 125h1v2h-1zM344 127h1v1h-1zM345 128h1v1h-1zM346 129h1v2h-1zM347 131h1v1h-1zM348 132h1v1h-1zM349 133h1v2h-1zM350 135h1v2h-1zM351 137h1v2h-1zM352 139h1v1h-1zM353 140h1v2h-1zM354 142h1v2h-1zM355 144h1v2h-1zM356 146h1v1h-1zM357 147h1v2h-1zM358 149h1v2h-1zM359 151h1v2h-1zM360 153h1v2h-1zM361 155h1v2h-1zM362 157h1v2h-1zM363 159h1v2h-1zM364 161h1v1h-1zM365 162h1v2h-1zM366 164h1v2h-1zM367 166h1v1h-1zM368 167h1v2h-1zM369 169h1v1h-1zM370 170h1v2h-1zM371 172h1v2h-1zM372 174h1v1h-1zM373 175h1v2h-1zM374 177h1v2h-1zM375 179h1v2h-1zM376 181h1v2h-1zM377 183h1v2h-1zM378 185h1v2h-1zM379 187h1v2h-1zM380 189h1v1h-1zM381 190h1v2h-1zM382 192h1v1h-1zM383 193h1v2h-1zM384 195h1v1h-1zM385 196h1v2h-1zM386 198h1v1h-1zM387 199h1v2h-1zM388 201h2v1h-2zM390 202h2v1h-2zM392 203h2v1h-2zM394 204h2v1h-2zM396 205h1v1h-1zM397 206h1v2h-1zM398 208h1v1h-1zM399 209h1v2h-1zM400 211h1v1h-1zM401 212h1v1h-1zM402 213h1v1h-1zM403 214h1v1h-1zM404 215h1v2h-1zM405 217h1v1h-1zM406 218h1v1h-1zM407 219h1v1h-1zM408 220h1v1h-1zM409 221h1v1h-1zM410 222h1v1h-1zM411 223h1v1h-1zM412 224h1v1h-1zM413 225h1v1h-1zM414 226h1v1h-1zM415 227h1v1h-1zM416 228h1v1h-1zM417 229h2v1h-2zM419 230h1v1h-1zM420 231h1v1h-1zM421 232h2v1h-2zM423 233h1v1h-1zM424 234h1v1h-1zM425 235h2v1h-2zM427 236h2v1h-2zM429 237h1v1h-1zM430 238h2v1h-2zM432 239h1v1h-1zM433 240h2v1h-2zM435 241h2v1h-2zM437 242h1v1h-1zM438 243h2v1h-2zM440 244h1v1h-1zM441 245h2v1h-2zM443 246h2v1h-2zM445 247h1v1h-1zM446 248h2v1h-2zM448 249h2v1h-2zM450 250h3v1h-3zM453 251h2v1h-2zM455 252h3v1h-3zM458 253h3v1h-3zM461 254h2v1h-2zM463 255h2v1h-2zM465 256h2v1h-2zM467 257h1v1h-1zM468 258h1v1h-1zM469 259h2v1h-2zM471 260h1v1h-1zM472 261h2v1h-2zM474 262h3v1h-3zM477 263h2v1h-2zM479 264h4v1h-4zM483 265h4v1h-4zM487 266h15v1h-15zM502 267h2v1h-2zM504 268h2v1h-2zM506 269h2v1h-2zM508 270h2v1h-2zM510 271h2v1h-2zM512 272h2v1h-2zM514 273h2v1h-2zM516 274h1v1h-1zM517 275h2v1h-2zM519 276h2v1h-2zM521 277h1v1h-1zM522 278h2v1h-2zM524 279h2v1h-2zM526 280h3v1h-3zM529 281h2v1h-2zM531 282h6v1h-6zM537 283h4v1h-4zM541 284h2v1h-2zM543 285h2v1h-2zM545 286h1v1h-1zM546 287h2v1h-2zM548 288h1v1h-1zM549 289h1v1h-1zM550 290h1v1h-1zM551 291h1v1h-1zM552 292h1v1h-1zM553 293h1v1h-1zM554 294h1v1h-1zM555 295h1v1h-1zM556 296h1v1h-1zM557 297h1v1h-1zM558 298h1v1h-1zM559 299h2v1h-2zM561 300h1v1h-1zM562 301h1v1h-1zM563 302h1v1h-1zM564 303h1v1h-1zM565 304h1v1h-1zM566 305h1v2h-1zM567 307h1v1h-1zM568 308h1v1h-1zM569 309h1v1h-1zM570 310h1v2h-1zM571 312h1v1h-1zM572 313h1v1h-1zM573 314h1v1h-1zM574 315h1v1h-1zM575 316h1v1h-1zM576 317h1v2h-1zM577 319h1v1h-1zM578 320h1v1h-1zM579 321h1v1h-1zM580 322h1v1h-1zM581 323h1v1h-1zM582 324h1v2h-1zM583 326h1v1h-1zM584 327h1v1h-1zM585 328h1v1h-1zM586 329h1v2h-1zM587 331h1v1h-1zM588 332h1v1h-1zM589 333h2v1h-2zM591 334h1v1h-1zM592 335h1v1h-1zM593 336h2v1h-2zM595 337h1v1h-1zM596 338h5v1h-5zM601 339h8v1h-8zM609 340h5v1h-5zM614 341h2v1h-2zM616 342h2v1h-2zM618 343h2v1h-2zM620 342h1v1h-1zM621 341h2v1h-2zM623 340h1v1h-1zM624 339h1v1h-1zM625 338h2v1h-2zM627 337h1v1h-1zM628 336h1v1h-1zM629 335h1v1h-1zM630 334h1v1h-1zM631 333h1v1h-1zM632 331h1v2h-1zM633 330h1v1h-1zM634 329h1v1h-1zM635 328h1v1h-1zM636 327h1v1h-1zM637 326h1v1h-1zM638 325h1v1h-1zM639 324h1v1h-1zM640 323h1v1h-1zM641 322h1v1h-1zM642 321h1v1h-1zM643 320h1v1h-1zM644 319h1v1h-1zM645 318h1v1h-1zM646 317h1v1h-1zM647 316h1v1h-1zM648 314h1v2h-1zM649 313h1v1h-1zM650 312h1v1h-1zM651 311h1v1h-1zM652 310h1v1h-1zM653 309h1v1h-1zM654 308h1v1h-1zM655 307h1v1h-1zM656 305h1v2h-1zM657 304h1v1h-1zM658 303h1v1h-1zM659 302h1v1h-1zM660 301h1v1h-1zM661 299h1v2h-1zM662 298h1v1h-1zM663 296h1v2h-1zM664 295h1v1h-1zM665 293h1v2h-1zM666 292h1v1h-1zM667 290h1v2h-1zM668 289h1v1h-1zM669 287h1v2h-1zM670 285h1v2h-1zM671 284h1v1h-1zM672 282h1v2h-1zM673 280h1v2h-1zM674 279h1v1h-1zM675 278h1v1h-1zM676 277h1v1h-1zM677 275h1v2h-1zM678 274h1v1h-1zM679 273h1v1h-1zM680 272h1v1h-1zM681 271h1v1h-1zM682 269h1v2h-1zM683 268h1v1h-1zM684 267h1v1h-1zM685 266h1v1h-1zM686 265h1v1h-1zM687 264h2v1h-2zM689 263h1v1h-1zM690 262h1v1h-1zM691 261h2v1h-2zM693 260h1v1h-1zM694 259h2v1h-2zM696 258h2v1h-2zM698 257h2v1h-2zM700 256h1v1h-1zM701 255h1v1h-1zM702 254h1v1h-1zM703 253h2v1h-2zM705 252h1v1h-1zM706 251h1v1h-1zM707 250h1v1h-1z" fill="#8b0000" shape-rendering="crispEdges"/>
<g shape-rendering="crispEdges" fill="#f00">
<rect x="4" y="53" width="756" height="1"/><rect x="3" y="54" width="757" height="1"/>
<rect x="4" y="101" width="756" height="1"/><rect x="3" y="102" width="757" height="1"/>
<rect x="4" y="130" width="756" height="1"/><rect x="3" y="131" width="757" height="1"/>
<rect x="4" y="198" width="756" height="1"/><rect x="3" y="199" width="757" height="1"/>
<rect x="4" y="221" width="756" height="1"/><rect x="3" y="222" width="757" height="1"/>
<rect x="4" y="268" width="756" height="1"/><rect x="3" y="269" width="757" height="1"/>
<rect x="4" y="323" width="756" height="1"/><rect x="3" y="324" width="757" height="1"/>
<rect x="4" y="356" width="756" height="1"/><rect x="3" y="357" width="757" height="1"/>
</g>
<path d="M3 446h1v2h-1zM4 445h1v1h-1zM5 441h1v1h-1zM6 439h1v2h-1zM8 433h1v3h-1zM10 428h1v2h-1zM11 427h1v1h-1zM14 425h1v1h-1zM15 424h2v1h-2zM20 421h1v1h-1zM21 420h1v1h-1zM22 419h1v1h-1zM26 416h1v1h-1zM27 415h1v1h-1zM28 414h1v1h-1zM31 410h1v1h-1zM32 409h1v1h-1zM33 408h1v1h-1zM36 404h1v1h-1zM37 403h1v1h-1zM38 402h1v1h-1zM42 398h1v1h-1zM43 397h2v1h-2zM48 399h1v1h-1zM49 400h2v1h-2zM52 404h1v1h-1zM53 405h1v2h-1zM55 410h1v2h-1zM56 412h1v1h-1zM57 416h1v1h-1zM58 417h1v2h-1zM60 422h1v2h-1zM61 424h1v1h-1zM62 428h1v1h-1zM63 429h1v2h-1zM65 434h1v3h-1zM67 440h1v2h-1zM68 442h1v1h-1zM70 446h1v2h-1zM71 448h1v1h-1zM73 452h1v2h-1zM74 454h1v1h-1zM77 456h3v1h-3zM83 457h3v1h-3zM89 456h1v1h-1zM90 455h2v1h-2zM95 453h1v1h-1zM96 452h1v1h-1zM97 451h1v1h-1zM101 449h3v1h-3zM107 447h1v1h-1zM108 445h1v2h-1zM111 441h1v1h-1zM112 439h1v2h-1zM115 435h1v1h-1zM116 433h1v2h-1zM119 429h1v1h-1zM120 428h1v1h-1zM121 427h1v1h-1zM124 422h1v2h-1zM125 421h1v1h-1zM127 417h1v1h-1zM128 416h1v1h-1zM129 415h1v1h-1zM131 411h1v1h-1zM132 409h1v2h-1zM134 405h1v1h-1zM135 404h1v1h-1zM136 403h1v1h-1zM138 398h1v2h-1zM139 397h1v1h-1zM143 398h3v1h-3zM148 401h1v2h-1zM149 403h1v1h-1zM150 407h1v1h-1zM151 408h1v2h-1zM153 413h1v2h-1zM154 415h1v1h-1zM155 419h1v2h-1zM156 421h1v1h-1zM157 425h1v3h-1zM158 431h1v3h-1zM159 437h1v1h-1zM160 438h1v2h-1zM161 443h1v3h-1zM162 449h1v2h-1zM163 451h1v1h-1zM163 455h1v1h-1zM164 456h1v2h-1zM165 461h1v3h-1zM166 467h1v1h-1zM167 468h1v2h-1zM168 473h1v3h-1zM169 479h1v1h-1zM170 480h1v2h-1zM171 485h1v2h-1zM172 486h1v1h-1zM176 486h3v1h-3zM180 482h1v2h-1zM181 481h1v1h-1zM182 476h1v2h-1zM183 475h1v1h-1zM184 469h1v3h-1zM186 463h1v3h-1zM188 457h1v3h-1zM189 453h1v1h-1zM190 451h1v2h-1zM191 446h1v2h-1zM192 445h1v1h-1zM193 439h1v3h-1zM194 435h1v1h-1zM195 433h1v2h-1zM196 429h1v1h-1zM197 427h1v2h-1zM199 421h1v3h-1zM201 416h1v2h-1zM202 415h1v1h-1zM203 411h1v1h-1zM204 410h2v1h-2zM209 407h2v1h-2zM211 406h1v1h-1zM215 408h2v1h-2zM217 409h1v1h-1zM220 412h1v1h-1zM221 413h1v2h-1zM224 418h1v1h-1zM225 419h1v2h-1zM227 424h1v1h-1zM228 425h1v2h-1zM229 430h1v1h-1zM230 431h1v2h-1zM231 436h1v1h-1zM232 437h1v2h-1zM233 442h1v1h-1zM234 443h1v2h-1zM235 448h1v1h-1zM236 449h1v2h-1zM237 454h1v3h-1zM238 460h1v1h-1zM239 461h1v2h-1zM240 466h1v2h-1zM241 468h1v1h-1zM242 472h1v3h-1zM243 478h1v1h-1zM244 479h1v2h-1zM246 484h1v2h-1zM247 486h1v1h-1zM248 490h1v1h-1zM249 491h1v2h-1zM251 496h1v2h-1zM252 497h1v1h-1zM256 495h2v1h-2zM258 494h1v1h-1zM260 489h1v3h-1zM262 483h1v3h-1zM263 479h1v1h-1zM264 477h1v2h-1zM265 473h1v1h-1zM266 471h1v2h-1zM267 466h1v2h-1zM268 465h1v1h-1zM269 459h1v3h-1zM270 454h1v2h-1zM271 453h1v1h-1zM272 447h1v3h-1zM273 442h1v2h-1zM274 441h1v1h-1zM275 435h1v3h-1zM277 431h1v1h-1zM278 429h1v2h-1zM280 425h1v1h-1zM281 423h1v2h-1zM284 420h1v1h-1zM285 421h2v1h-2zM290 423h1v1h-1zM291 423h1v2h-1zM292 428h1v1h-1zM293 429h1v2h-1zM294 434h1v2h-1zM295 436h1v1h-1zM296 440h1v3h-1zM297 446h1v1h-1zM298 447h1v2h-1zM299 452h1v3h-1zM300 458h1v1h-1zM301 459h1v2h-1zM302 464h1v3h-1zM303 470h1v1h-1zM304 471h1v2h-1zM305 476h1v3h-1zM306 482h1v1h-1zM307 483h1v2h-1zM308 488h1v3h-1zM309 494h1v3h-1zM310 500h1v2h-1zM311 502h1v1h-1zM311 506h1v1h-1zM312 507h1v2h-1zM313 512h1v3h-1zM314 518h1v3h-1zM316 524h1v2h-1zM317 526h1v1h-1zM319 530h1v2h-1zM320 532h1v1h-1zM322 536h1v2h-1zM323 538h1v1h-1zM327 542h1v2h-1zM328 544h1v1h-1zM332 547h1v1h-1zM333 546h2v1h-2zM338 544h3v1h-3zM344 545h3v1h-3zM350 545h2v1h-2zM352 544h1v1h-1zM356 544h1v1h-1zM357 545h2v1h-2zM362 547h2v1h-2zM364 548h1v1h-1zM368 550h1v1h-1zM369 551h2v1h-2zM374 554h2v1h-2zM376 555h1v1h-1zM380 556h2v1h-2zM382 555h1v1h-1zM386 552h1v1h-1zM387 551h1v1h-1zM388 550h1v1h-1zM390 545h1v2h-1zM391 544h1v1h-1zM393 540h1v1h-1zM394 538h1v2h-1zM397 534h1v1h-1zM398 533h1v1h-1zM399 532h1v1h-1zM402 527h1v2h-1zM403 526h1v1h-1zM407 525h3v1h-3zM413 525h1v1h-1zM414 526h2v1h-2zM419 529h2v1h-2zM421 528h1v1h-1zM425 526h2v1h-2zM427 525h1v1h-1zM431 522h1v1h-1zM432 521h1v1h-1zM433 520h1v1h-1zM437 517h1v1h-1zM438 516h1v1h-1zM439 515h1v1h-1zM443 512h3v1h-3zM449 512h3v1h-3zM455 516h1v2h-1zM456 518h1v1h-1zM460 522h1v1h-1zM461 523h1v1h-1zM462 524h1v1h-1zM466 528h1v1h-1zM467 529h2v1h-2zM472 528h2v1h-2zM474 527h1v1h-1zM476 523h1v2h-1zM477 522h1v1h-1zM478 517h1v2h-1zM479 516h1v1h-1zM480 512h1v1h-1zM481 510h1v2h-1zM482 506h1v1h-1zM483 504h1v2h-1zM484 499h1v2h-1zM485 498h1v1h-1zM486 492h1v3h-1zM487 488h1v1h-1zM488 486h1v2h-1zM489 480h1v3h-1zM490 476h1v1h-1zM491 474h1v2h-1zM493 470h1v1h-1zM494 468h1v2h-1zM496 464h1v1h-1zM497 462h1v2h-1zM500 458h2v1h-2zM502 457h1v1h-1zM506 454h1v1h-1zM507 453h1v1h-1zM508 454h1v1h-1zM510 458h1v2h-1zM511 460h1v1h-1zM513 464h1v2h-1zM514 466h1v1h-1zM515 470h1v1h-1zM516 471h1v2h-1zM517 476h1v3h-1zM518 482h1v1h-1zM519 483h1v2h-1zM520 488h1v3h-1zM521 494h1v1h-1zM522 495h1v2h-1zM523 500h1v2h-1zM524 502h1v1h-1zM526 506h1v2h-1zM527 508h1v1h-1zM528 512h1v1h-1zM529 513h1v2h-1zM531 518h1v1h-1zM532 516h1v2h-1zM535 512h1v1h-1zM536 510h1v2h-1zM539 505h1v2h-1zM540 504h1v1h-1zM542 499h1v2h-1zM543 498h1v1h-1zM544 494h1v1h-1zM545 492h1v2h-1zM547 488h1v1h-1zM548 489h1v1h-1zM549 490h1v1h-1zM553 494h1v1h-1zM554 495h1v1h-1zM555 496h1v1h-1zM556 500h1v2h-1zM557 502h1v1h-1zM558 506h1v3h-1zM559 512h1v1h-1zM560 513h1v2h-1zM561 518h1v2h-1zM562 520h1v1h-1zM563 524h1v3h-1zM565 530h1v3h-1zM567 536h1v2h-1zM568 538h1v1h-1zM569 542h1v2h-1zM570 544h1v1h-1zM571 548h2v1h-2zM573 549h1v1h-1zM577 551h2v1h-2zM579 552h1v1h-1zM583 549h1v1h-1zM584 548h1v1h-1zM585 547h1v1h-1zM588 542h1v2h-1zM589 541h1v1h-1zM591 536h1v2h-1zM592 535h1v1h-1zM594 530h1v2h-1zM595 529h1v1h-1zM596 525h1v1h-1zM597 523h1v2h-1zM598 519h1v1h-1zM599 517h1v2h-1zM600 512h1v2h-1zM601 511h1v1h-1zM602 506h1v2h-1zM603 501h1v1h-1zM603 505h1v1h-1zM604 493h1v3h-1zM604 499h1v2h-1zM605 487h1v3h-1zM606 481h1v3h-1zM607 471h1v1h-1zM607 475h1v3h-1zM608 464h1v2h-1zM608 469h1v2h-1zM609 457h1v3h-1zM609 463h1v1h-1zM610 451h1v3h-1zM611 445h1v3h-1zM612 440h1v2h-1zM613 439h1v1h-1zM614 433h1v3h-1zM616 427h1v3h-1zM617 423h1v1h-1zM618 421h1v2h-1zM619 416h1v2h-1zM620 415h1v1h-1zM621 411h1v1h-1zM622 409h1v2h-1zM623 405h1v1h-1zM624 403h1v2h-1zM626 397h1v3h-1zM629 394h1v1h-1zM630 393h2v1h-2zM635 390h3v1h-3zM641 390h3v1h-3zM647 394h1v1h-1zM648 395h1v1h-1zM649 396h1v1h-1zM652 400h1v2h-1zM653 402h1v1h-1zM655 406h1v2h-1zM656 408h1v1h-1zM658 412h1v2h-1zM659 414h1v1h-1zM661 418h1v1h-1zM662 419h1v2h-1zM664 424h1v1h-1zM665 425h1v2h-1zM668 430h1v1h-1zM669 431h1v1h-1zM670 432h1v1h-1zM674 435h1v1h-1zM675 436h2v1h-2zM680 437h2v1h-2zM682 438h1v1h-1zM686 441h1v1h-1zM687 442h1v1h-1zM688 443h1v1h-1zM691 447h1v1h-1zM692 448h1v2h-1zM694 453h1v1h-1zM695 454h1v2h-1zM697 459h1v2h-1zM698 461h1v1h-1zM699 465h1v1h-1zM700 466h1v2h-1zM701 471h1v1h-1zM702 472h1v2h-1zM703 477h1v1h-1zM704 478h1v2h-1zM705 483h1v1h-1zM706 484h1v2h-1z" fill="#f00" shape-rendering="crispEdges"/>
<path d="M3 418h2v1h-2zM5 419h2v1h-2zM7 420h2v1h-2zM9 421h2v1h-2zM11 422h3v1h-3zM14 423h4v1h-4zM18 424h1v1h-1zM19 423h1v2h-1zM20 421h1v2h-1zM21 419h1v2h-1zM22 416h1v3h-1zM23 414h1v2h-1zM24 411h1v3h-1zM25 409h1v2h-1zM26 407h1v2h-1zM27 404h1v3h-1zM28 402h1v2h-1zM29 400h1v2h-1zM30 398h1v2h-1zM31 395h1v3h-1zM32 393h1v2h-1zM33 391h1v2h-1zM34 389h1v2h-1zM35 387h1v2h-1zM36 388h1v2h-1zM37 390h1v1h-1zM38 391h1v1h-1zM39 392h1v2h-1zM40 394h1v1h-1zM41 395h1v1h-1zM42 396h1v2h-1zM43 398h1v2h-1zM44 400h1v2h-1zM45 402h1v2h-1zM46 404h1v2h-1zM47 406h1v2h-1zM48 408h1v2h-1zM49 410h1v2h-1zM50 412h1v2h-1zM51 414h1v3h-1zM52 417h1v4h-1zM53 421h1v4h-1zM54 425h1v5h-1zM55 430h1v4h-1zM56 434h1v5h-1zM57 439h1v4h-1zM58 443h1v4h-1zM59 447h1v3h-1zM60 450h1v2h-1zM61 452h1v1h-1zM62 453h1v1h-1zM63 454h1v2h-1zM64 456h1v1h-1zM65 457h1v1h-1zM66 458h1v2h-1zM67 460h5v1h-5zM72 461h4v1h-4zM76 459h1v2h-1zM77 458h1v1h-1zM78 456h1v2h-1zM79 455h1v1h-1zM80 453h1v2h-1zM81 452h1v1h-1zM82 450h1v2h-1zM83 449h1v1h-1zM84 450h2v1h-2zM86 451h2v1h-2zM88 452h1v1h-1zM89 453h2v1h-2zM91 454h1v1h-1zM92 453h1v1h-1zM93 452h1v1h-1zM94 451h1v1h-1zM95 450h1v1h-1zM96 449h1v1h-1zM97 448h1v1h-1zM98 447h1v1h-1zM99 446h2v1h-2zM101 445h2v1h-2zM103 444h2v1h-2zM105 443h2v1h-2zM107 441h1v2h-1zM108 437h1v4h-1zM109 434h1v3h-1zM110 430h1v4h-1zM111 427h1v3h-1zM112 423h1v4h-1zM113 420h1v3h-1zM114 416h1v4h-1zM115 414h1v2h-1zM116 414h1v1h-1zM117 413h2v1h-2zM119 412h2v1h-2zM121 411h2v1h-2zM123 409h1v2h-1zM124 407h1v2h-1zM125 404h1v3h-1zM126 401h1v3h-1zM127 399h1v2h-1zM128 396h1v3h-1zM129 393h1v3h-1zM130 391h1v2h-1zM131 389h1v2h-1zM132 389h1v1h-1zM133 390h2v1h-2zM135 391h2v1h-2zM137 392h2v1h-2zM139 393h1v2h-1zM140 395h1v3h-1zM141 398h1v2h-1zM142 400h1v3h-1zM143 403h1v3h-1zM144 406h1v3h-1zM145 409h1v2h-1zM146 411h1v3h-1zM147 414h1v4h-1zM148 418h1v5h-1zM149 423h1v5h-1zM150 428h1v5h-1zM151 433h1v4h-1zM152 437h1v5h-1zM153 442h1v5h-1zM154 447h1v5h-1zM155 452h1v5h-1zM156 457h1v5h-1zM157 462h1v6h-1zM158 468h1v5h-1zM159 473h1v5h-1zM160 478h1v5h-1zM161 483h1v6h-1zM162 489h1v5h-1zM163 494h1v3h-1zM164 497h1v1h-1zM165 498h1v1h-1zM166 499h2v1h-2zM168 500h1v1h-1zM169 501h1v1h-1zM170 502h1v1h-1zM171 501h1v3h-1zM172 496h1v5h-1zM173 492h1v4h-1zM174 487h1v5h-1zM175 482h1v5h-1zM176 477h1v5h-1zM177 473h1v4h-1zM178 468h1v5h-1zM179 463h1v5h-1zM180 458h1v5h-1zM181 454h1v4h-1zM182 449h1v5h-1zM183 444h1v5h-1zM184 439h1v5h-1zM185 435h1v4h-1zM186 430h1v5h-1zM187 426h1v4h-1zM188 423h1v3h-1zM189 420h1v3h-1zM190 417h1v3h-1zM191 414h1v3h-1zM192 411h1v3h-1zM193 408h1v3h-1zM194 405h1v3h-1zM195 403h1v2h-1zM196 403h2v1h-2zM198 402h4v1h-4zM202 401h2v1h-2zM204 402h1v1h-1zM205 403h1v1h-1zM206 404h1v1h-1zM207 405h1v1h-1zM208 406h1v1h-1zM209 407h1v1h-1zM210 408h1v1h-1zM211 409h1v1h-1zM212 410h1v1h-1zM213 411h1v2h-1zM214 413h1v1h-1zM215 414h1v1h-1zM216 415h1v1h-1zM217 416h1v2h-1zM218 418h1v1h-1zM219 419h1v2h-1zM220 421h1v2h-1zM221 423h1v3h-1zM222 426h1v3h-1zM223 429h1v2h-1zM224 431h1v3h-1zM225 434h1v3h-1zM226 437h1v2h-1zM227 439h1v4h-1zM228 443h1v5h-1zM229 448h1v5h-1zM230 453h1v5h-1zM231 458h1v5h-1zM232 463h1v5h-1zM233 468h1v5h-1zM234 473h1v5h-1zM235 478h1v5h-1zM236 483h1v4h-1zM237 487h1v4h-1zM238 491h1v4h-1zM239 495h1v5h-1zM240 500h1v4h-1zM241 504h1v4h-1zM242 508h1v4h-1zM243 512h1v3h-1zM244 512h1v2h-1zM245 510h1v2h-1zM246 509h1v1h-1zM247 507h1v2h-1zM248 506h1v1h-1zM249 504h1v2h-1zM250 502h1v2h-1zM251 499h1v3h-1zM252 494h1v5h-1zM253 489h1v5h-1zM254 484h1v5h-1zM255 479h1v5h-1zM256 474h1v5h-1zM257 469h1v5h-1zM258 464h1v5h-1zM259 459h1v5h-1zM260 455h1v4h-1zM261 450h1v5h-1zM262 445h1v5h-1zM263 441h1v4h-1zM264 436h1v5h-1zM265 431h1v5h-1zM266 427h1v4h-1zM267 424h1v3h-1zM268 423h1v1h-1zM269 421h1v2h-1zM270 420h1v1h-1zM271 419h1v1h-1zM272 418h1v1h-1zM273 416h1v2h-1zM274 415h1v1h-1zM275 414h1v1h-1zM276 415h2v1h-2zM278 416h2v1h-2zM280 417h1v1h-1zM281 418h2v1h-2zM283 419h1v2h-1zM284 421h1v2h-1zM285 423h1v2h-1zM286 425h1v2h-1zM287 427h1v2h-1zM288 429h1v2h-1zM289 431h1v2h-1zM290 433h1v2h-1zM291 435h1v4h-1zM292 439h1v8h-1zM293 447h1v8h-1zM294 455h1v7h-1zM295 462h1v8h-1zM296 470h1v7h-1zM297 477h1v8h-1zM298 485h1v8h-1zM299 493h1v5h-1zM300 498h1v4h-1zM301 502h1v4h-1zM302 506h1v4h-1zM303 510h1v3h-1zM304 513h1v4h-1zM305 517h1v4h-1zM306 521h1v4h-1zM307 525h1v3h-1zM308 528h1v3h-1zM309 531h1v3h-1zM310 534h1v3h-1zM311 537h1v4h-1zM312 541h1v3h-1zM313 544h1v3h-1zM314 547h1v3h-1zM315 550h1v2h-1zM316 550h1v1h-1zM317 549h1v1h-1zM318 548h1v1h-1zM319 546h1v2h-1zM320 545h1v1h-1zM321 544h1v1h-1zM322 543h1v1h-1zM323 542h1v1h-1zM324 543h1v1h-1zM325 544h1v1h-1zM326 545h2v1h-2zM328 546h1v1h-1zM329 547h1v1h-1zM330 548h1v1h-1zM331 549h1v1h-1zM332 548h2v1h-2zM334 547h1v1h-1zM335 546h1v1h-1zM336 545h2v1h-2zM338 544h1v1h-1zM339 543h5v1h-5zM344 544h12v1h-12zM356 545h1v1h-1zM357 546h1v1h-1zM358 547h1v1h-1zM359 548h1v1h-1zM360 549h1v1h-1zM361 550h1v1h-1zM362 551h1v1h-1zM363 552h1v1h-1zM364 553h1v1h-1zM365 554h1v1h-1zM366 555h2v1h-2zM368 556h1v1h-1zM369 557h1v1h-1zM370 558h1v1h-1zM371 559h5v1h-5zM376 558h3v1h-3zM379 557h1v2h-1zM380 554h1v3h-1zM381 551h1v3h-1zM382 548h1v3h-1zM383 545h1v3h-1zM384 542h1v3h-1zM385 539h1v3h-1zM386 536h1v3h-1zM387 534h1v2h-1zM388 532h1v2h-1zM389 530h1v2h-1zM390 528h1v2h-1zM391 526h1v2h-1zM392 524h1v2h-1zM393 522h1v2h-1zM394 520h1v2h-1zM395 519h2v1h-2zM397 520h2v1h-2zM399 521h2v1h-2zM401 522h2v1h-2zM403 523h1v1h-1zM404 524h2v1h-2zM406 525h1v1h-1zM407 526h1v1h-1zM408 527h2v1h-2zM410 528h1v1h-1zM411 529h1v1h-1zM412 530h1v1h-1zM413 531h1v2h-1zM414 533h1v1h-1zM415 534h1v1h-1zM416 535h1v1h-1zM417 536h1v2h-1zM418 538h1v1h-1zM419 538h1v2h-1zM420 535h1v3h-1zM421 531h1v4h-1zM422 528h1v3h-1zM423 525h1v3h-1zM424 522h1v3h-1zM425 518h1v4h-1zM426 515h1v3h-1zM427 513h1v2h-1zM428 512h2v1h-2zM430 511h2v1h-2zM432 510h1v1h-1zM433 509h2v1h-2zM435 508h2v1h-2zM437 509h2v1h-2zM439 510h2v1h-2zM441 511h2v1h-2zM443 512h2v1h-2zM445 513h3v1h-3zM448 514h2v1h-2zM450 515h1v1h-1zM451 515h1v2h-1zM452 517h1v3h-1zM453 520h1v2h-1zM454 522h1v3h-1zM455 525h1v3h-1zM456 528h1v3h-1zM457 531h1v2h-1zM458 533h1v3h-1zM459 536h1v2h-1zM460 537h1v1h-1zM461 538h2v1h-2zM463 539h2v1h-2zM465 540h2v1h-2zM467 539h1v3h-1zM468 534h1v5h-1zM469 528h1v6h-1zM470 523h1v5h-1zM471 518h1v5h-1zM472 513h1v5h-1zM473 507h1v6h-1zM474 502h1v5h-1zM475 498h1v4h-1zM476 495h1v3h-1zM477 492h1v3h-1zM478 489h1v3h-1zM479 487h1v2h-1zM480 484h1v3h-1zM481 481h1v3h-1zM482 478h1v3h-1zM483 475h1v3h-1zM484 472h1v3h-1zM485 468h1v4h-1zM486 465h1v3h-1zM487 462h1v3h-1zM488 459h1v3h-1zM489 455h1v4h-1zM490 452h1v3h-1zM491 450h1v2h-1zM492 450h1v1h-1zM493 449h2v1h-2zM495 448h2v1h-2zM497 447h2v1h-2zM499 446h1v2h-1zM500 448h1v2h-1zM501 450h1v2h-1zM502 452h1v2h-1zM503 454h1v2h-1zM504 456h1v2h-1zM505 458h1v2h-1zM506 460h1v2h-1zM507 462h1v3h-1zM508 465h1v6h-1zM509 471h1v5h-1zM510 476h1v5h-1zM511 481h1v6h-1zM512 487h1v5h-1zM513 492h1v5h-1zM514 497h1v6h-1zM515 503h1v5h-1zM516 508h1v6h-1zM517 514h1v5h-1zM518 519h1v6h-1zM519 525h1v5h-1zM520 530h1v6h-1zM521 536h1v5h-1zM522 541h1v6h-1zM523 547h1v3h-1zM524 542h1v5h-1zM525 536h1v6h-1zM526 531h1v5h-1zM527 526h1v5h-1zM528 521h1v5h-1zM529 515h1v6h-1zM530 510h1v5h-1zM531 505h1v5h-1zM532 501h1v4h-1zM533 497h1v4h-1zM534 492h1v5h-1zM535 488h1v4h-1zM536 483h1v5h-1zM537 479h1v4h-1zM538 475h1v4h-1zM539 472h1v3h-1zM540 473h1v1h-1zM541 474h1v1h-1zM542 475h1v1h-1zM543 476h1v2h-1zM544 478h1v1h-1zM545 479h1v1h-1zM546 480h1v1h-1zM547 481h1v4h-1zM548 485h1v6h-1zM549 491h1v7h-1zM550 498h1v6h-1zM551 504h1v7h-1zM552 511h1v6h-1zM553 517h1v7h-1zM554 524h1v6h-1zM555 530h1v5h-1zM556 535h1v3h-1zM557 538h1v3h-1zM558 541h1v3h-1zM559 544h1v3h-1zM560 547h1v3h-1zM561 550h1v3h-1zM562 553h1v3h-1zM563 556h1v2h-1zM564 557h1v1h-1zM565 556h2v1h-2zM567 555h2v1h-2zM569 554h2v1h-2zM571 553h1v1h-1zM572 552h1v1h-1zM573 551h1v1h-1zM574 550h1v1h-1zM575 549h1v1h-1zM576 548h1v1h-1zM577 547h1v1h-1zM578 546h1v1h-1zM579 545h2v1h-2zM581 544h3v1h-3zM584 543h2v1h-2zM586 542h1v1h-1zM587 540h1v3h-1zM588 536h1v4h-1zM589 532h1v4h-1zM590 527h1v5h-1zM591 523h1v4h-1zM592 518h1v5h-1zM593 514h1v4h-1zM594 510h1v4h-1zM595 504h1v6h-1zM596 498h1v6h-1zM597 491h1v7h-1zM598 485h1v6h-1zM599 478h1v7h-1zM600 472h1v6h-1zM601 465h1v7h-1zM602 459h1v6h-1zM603 452h1v7h-1zM604 445h1v7h-1zM605 438h1v7h-1zM606 431h1v7h-1zM607 424h1v7h-1zM608 417h1v7h-1zM609 410h1v7h-1zM610 403h1v7h-1zM611 399h1v4h-1zM612 399h1v1h-1zM613 398h2v1h-2zM615 397h2v1h-2zM617 396h2v1h-2zM619 395h2v1h-2zM621 394h2v1h-2zM623 393h2v1h-2zM625 392h2v1h-2zM627 391h1v1h-1zM628 390h2v1h-2zM630 389h2v1h-2zM632 388h1v1h-1zM633 387h2v1h-2zM635 386h1v1h-1zM636 387h1v1h-1zM637 388h1v1h-1zM638 389h2v1h-2zM640 390h1v1h-1zM641 391h1v1h-1zM642 392h1v1h-1zM643 393h1v2h-1zM644 395h1v3h-1zM645 398h1v2h-1zM646 400h1v3h-1zM647 403h1v3h-1zM648 406h1v3h-1zM649 409h1v2h-1zM650 411h1v3h-1zM651 414h1v3h-1zM652 417h1v2h-1zM653 419h1v2h-1zM654 421h1v3h-1zM655 424h1v2h-1zM656 426h1v3h-1zM657 429h1v2h-1zM658 431h1v2h-1zM659 433h1v2h-1zM660 435h2v1h-2zM662 436h2v1h-2zM664 437h1v1h-1zM665 438h2v1h-2zM667 439h2v1h-2zM669 438h2v1h-2zM671 437h2v1h-2zM673 436h2v1h-2zM675 435h1v1h-1zM676 436h2v1h-2zM678 437h1v1h-1zM679 438h1v1h-1zM680 439h2v1h-2zM682 440h1v1h-1zM683 441h1v2h-1zM684 443h1v2h-1zM685 445h1v3h-1zM686 448h1v2h-1zM687 450h1v3h-1zM688 453h1v2h-1zM689 455h1v3h-1zM690 458h1v2h-1zM691 460h1v3h-1zM692 463h1v4h-1zM693 467h1v3h-1zM694 470h1v4h-1zM695 474h1v3h-1zM696 477h1v4h-1zM697 481h1v3h-1zM698 484h1v4h-1zM699 488h1v3h-1zM700 491h1v3h-1zM701 494h1v3h-1zM702 497h1v3h-1zM703 500h1v4h-1zM704 504h1v3h-1zM705 507h1v3h-1zM706 510h1v3h-1zM707 513h1v2h-1z" fill="#20b2aa" shape-rendering="crispEdges"/>
<g shape-rendering="crispEdges" fill="#000">
<rect x="2" y="2" width="759" height="1"/>
<rect x="2" y="2" width="1" height="581"/>
<rect x="760" y="2" width="1" height="581"/>
<rect x="2" y="365" width="759" height="1"/>
<rect x="2" y="367" width="759" height="1"/>
<rect x="2" y="582" width="759" height="1"/>
<rect x="2" y="366" width="759" height="1" fill="#fff"/>
<rect x="761" y="369" width="1" height="1"/>
<rect x="761" y="23" width="2" height="1"/>
<rect x="761" y="58" width="2" height="1"/>
<rect x="761" y="90" width="2" height="1"/>
<rect x="761" y="125" width="2" height="1"/>
<rect x="761" y="160" width="2" height="1"/>
<rect x="761" y="192" width="2" height="1"/>
<rect x="761" y="227" width="2" height="1"/>
<rect x="761" y="262" width="2" height="1"/>
<rect x="761" y="294" width="2" height="1"/>
<rect x="761" y="329" width="2" height="1"/>
<rect x="761" y="361" width="2" height="1"/>
<rect x="761" y="411" width="2" height="1"/>
<rect x="761" y="539" width="2" height="1"/>
<rect x="761" y="581" width="2" height="1"/>
<rect x="3" y="583" width="1" height="3"/>
<rect x="67" y="583" width="1" height="3"/>
<rect x="131" y="583" width="1" height="3"/>
<rect x="195" y="583" width="1" height="3"/>
<rect x="259" y="583" width="1" height="3"/>
<rect x="323" y="583" width="1" height="3"/>
<rect x="387" y="583" width="1" height="3"/>
<rect x="451" y="583" width="1" height="3"/>
<rect x="515" y="583" width="1" height="3"/>
<rect x="579" y="583" width="1" height="3"/>
<rect x="643" y="583" width="1" height="3"/>
<rect x="707" y="583" width="1" height="3"/>
</g>
<g font-family="Liberation Sans, sans-serif" font-size="10px" fill="#000" stroke="#000" stroke-width="0.15" style="text-rendering:geometricPrecision">
<text x="766" y="27" textLength="28" lengthAdjust="spacingAndGlyphs">1.0225</text>
<text x="766" y="62" textLength="28" lengthAdjust="spacingAndGlyphs">1.0180</text>
<text x="766" y="94" textLength="28" lengthAdjust="spacingAndGlyphs">1.0140</text>
<text x="766" y="129" textLength="28" lengthAdjust="spacingAndGlyphs">1.0095</text>
<text x="766" y="164" textLength="28" lengthAdjust="spacingAndGlyphs">1.0050</text>
<text x="766" y="196" textLength="28" lengthAdjust="spacingAndGlyphs">1.0010</text>
<text x="766" y="231" textLength="28" lengthAdjust="spacingAndGlyphs">0.9965</text>
<text x="766" y="266" textLength="28" lengthAdjust="spacingAndGlyphs">0.9920</text>
<text x="766" y="298" textLength="28" lengthAdjust="spacingAndGlyphs">0.9880</text>
<text x="766" y="333" textLength="28" lengthAdjust="spacingAndGlyphs">0.9835</text>
<text x="766" y="365" textLength="28" lengthAdjust="spacingAndGlyphs">0.9795</text>
<text x="764.5" y="378" textLength="15" lengthAdjust="spacingAndGlyphs">100</text>
<text x="763" y="415" textLength="10" lengthAdjust="spacingAndGlyphs">80</text>
<text x="763" y="543" textLength="10" lengthAdjust="spacingAndGlyphs">20</text>
<text x="764" y="579" textLength="5" lengthAdjust="spacingAndGlyphs">0</text>
<rect x="762" y="212" width="36" height="11" fill="#000" stroke="none" shape-rendering="crispEdges"/>
<text x="766" y="221" textLength="28" lengthAdjust="spacingAndGlyphs" fill="#fff" stroke="#fff">0.9978</text>
<rect x="762" y="48" width="36" height="11" fill="#f00" stroke="none" shape-rendering="crispEdges"/>
<text x="766" y="57" textLength="28" lengthAdjust="spacingAndGlyphs" fill="#fff" stroke="#fff">1.0185</text>
<rect x="762" y="96" width="36" height="11" fill="#f00" stroke="none" shape-rendering="crispEdges"/>
<text x="766" y="105" textLength="28" lengthAdjust="spacingAndGlyphs" fill="#fff" stroke="#fff">1.0124</text>
<rect x="762" y="125" width="36" height="11" fill="#f00" stroke="none" shape-rendering="crispEdges"/>
<text x="766" y="134" textLength="28" lengthAdjust="spacingAndGlyphs" fill="#fff" stroke="#fff">1.0088</text>
<rect x="762" y="193" width="36" height="11" fill="#f00" stroke="none" shape-rendering="crispEdges"/>
<text x="766" y="202" textLength="28" lengthAdjust="spacingAndGlyphs" fill="#fff" stroke="#fff">1.0000</text>
<rect x="762" y="216" width="36" height="11" fill="#f00" stroke="none" shape-rendering="crispEdges"/>
<text x="766" y="225" textLength="28" lengthAdjust="spacingAndGlyphs" fill="#fff" stroke="#fff">0.9972</text>
<rect x="762" y="263" width="36" height="11" fill="#f00" stroke="none" shape-rendering="crispEdges"/>
<text x="766" y="272" textLength="28" lengthAdjust="spacingAndGlyphs" fill="#fff" stroke="#fff">0.9912</text>
<rect x="762" y="318" width="36" height="11" fill="#f00" stroke="none" shape-rendering="crispEdges"/>
<text x="766" y="327" textLength="28" lengthAdjust="spacingAndGlyphs" fill="#fff" stroke="#fff">0.9841</text>
<rect x="762" y="351" width="36" height="11" fill="#f00" stroke="none" shape-rendering="crispEdges"/>
<text x="766" y="360" textLength="28" lengthAdjust="spacingAndGlyphs" fill="#fff" stroke="#fff">0.9800</text>
<text x="7.5" y="14" textLength="55.5" lengthAdjust="spacingAndGlyphs">AUDUSD,H4</text>
<text x="68.7" y="14" textLength="28" lengthAdjust="spacingAndGlyphs">0.9978</text>
<text x="99.7" y="14" textLength="28" lengthAdjust="spacingAndGlyphs">0.9987</text>
<text x="130.7" y="14" textLength="28" lengthAdjust="spacingAndGlyphs">0.9976</text>
<text x="162" y="14" textLength="28" lengthAdjust="spacingAndGlyphs">0.9978</text>
<text x="7" y="381" textLength="50.2" lengthAdjust="spacingAndGlyphs">Stoch(5,3,3)</text>
<text x="60" y="381" textLength="33" lengthAdjust="spacingAndGlyphs">31.9249</text>
<text x="95.6" y="381" textLength="33" lengthAdjust="spacingAndGlyphs">43.3118</text>
<text x="6.6" y="578" textLength="20" lengthAdjust="spacingAndGlyphs">Meta</text>
<text x="29.9" y="578" textLength="30.9" lengthAdjust="spacingAndGlyphs">Trader,</text>
<text x="66" y="578" textLength="9.4" lengthAdjust="spacingAndGlyphs">©</text>
<text x="78" y="578" textLength="43.9" lengthAdjust="spacingAndGlyphs">2001-2009</text>
<text x="125.1" y="578" textLength="53" lengthAdjust="spacingAndGlyphs">MetaQuotes</text>
<text x="181.4" y="578" textLength="39.6" lengthAdjust="spacingAndGlyphs">Software</text>
<text x="224.3" y="578" textLength="25.3" lengthAdjust="spacingAndGlyphs">Corp.</text>
<text x="2" y="595" textLength="51" lengthAdjust="spacingAndGlyphs">22 Dec 2010</text>
<text x="66" y="595" textLength="54" lengthAdjust="spacingAndGlyphs">27 Dec 00:00</text>
<text x="130" y="595" textLength="54" lengthAdjust="spacingAndGlyphs">28 Dec 08:00</text>
<text x="194" y="595" textLength="54" lengthAdjust="spacingAndGlyphs">29 Dec 16:00</text>
<text x="258" y="595" textLength="48" lengthAdjust="spacingAndGlyphs">3 Jan 00:00</text>
<text x="322" y="595" textLength="48" lengthAdjust="spacingAndGlyphs">4 Jan 08:00</text>
<text x="386" y="595" textLength="48" lengthAdjust="spacingAndGlyphs">5 Jan 16:00</text>
<text x="450" y="595" textLength="48" lengthAdjust="spacingAndGlyphs">7 Jan 00:00</text>
<text x="514" y="595" textLength="53" lengthAdjust="spacingAndGlyphs">10 Jan 08:00</text>
<text x="578" y="595" textLength="53" lengthAdjust="spacingAndGlyphs">11 Jan 16:00</text>
<text x="642" y="595" textLength="53" lengthAdjust="spacingAndGlyphs">13 Jan 00:00</text>
<text x="706" y="595" textLength="53" lengthAdjust="spacingAndGlyphs">14 Jan 08:00</text>
</g>
</svg>
</body></html>
